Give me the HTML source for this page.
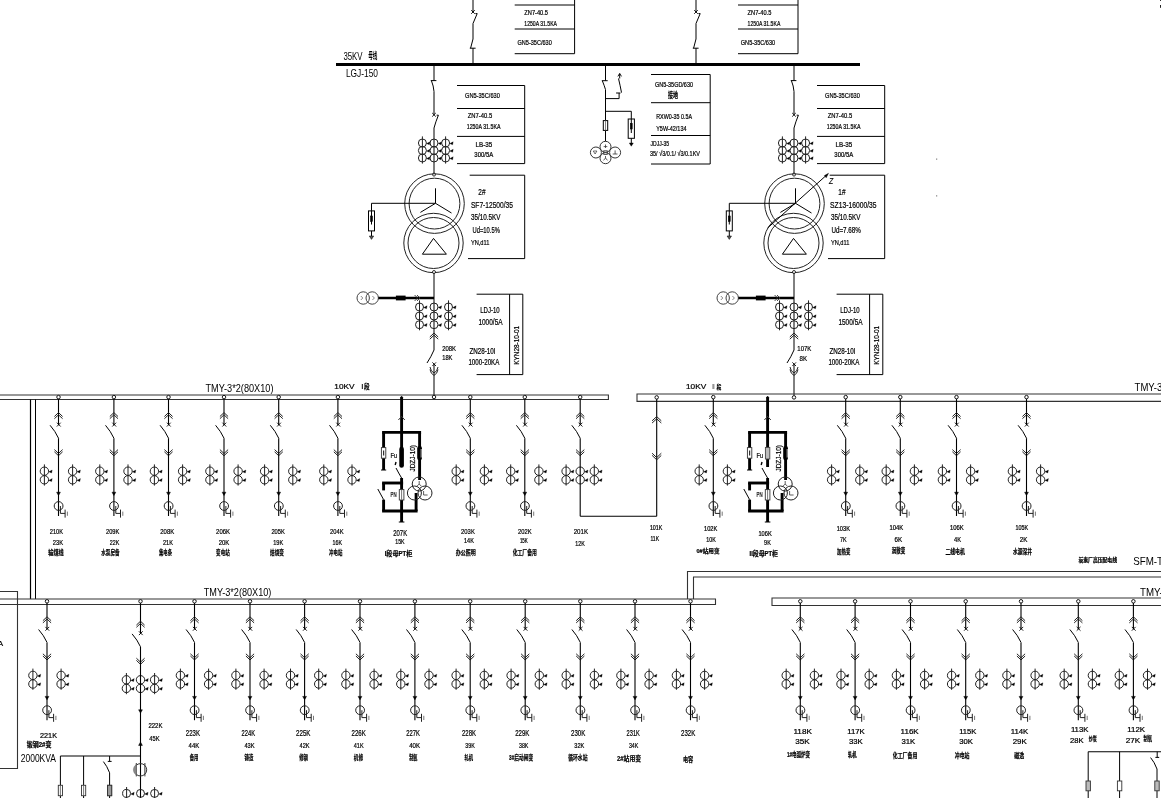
<!DOCTYPE html>
<html lang="zh">
<head>
<meta charset="utf-8">
<title>35KV/10KV 一次系统图</title>
<style>
html,body{margin:0;padding:0;background:#fff;}
body{width:1161px;height:798px;overflow:hidden;}
svg{display:block;will-change:transform;}
svg text{font-family:"Liberation Sans","Noto Sans CJK SC",sans-serif;fill:#000;stroke:#000;stroke-width:0.22px;}
svg text.it{font-style:italic;}
svg text.ns{stroke-width:0;}
</style>
</head>
<body>
<svg width="1161" height="798" viewBox="0 0 1161 798">
<rect x="0" y="0" width="1161" height="798" fill="#fff"/>
<line x1="336" y1="64.5" x2="860" y2="64.5" stroke="#000" stroke-width="3"/>
<text x="343.4" y="60" font-size="11.6" textLength="19.2" lengthAdjust="spacingAndGlyphs" class="ns">35KV</text>
<text x="368.2" y="59.4" font-size="9.6" textLength="9.2" lengthAdjust="spacingAndGlyphs" class="ns" font-weight="bold">母线</text>
<text x="345.9" y="76.9" font-size="11.4" textLength="32.1" lengthAdjust="spacingAndGlyphs" class="ns">LGJ-150</text>
<line x1="473" y1="0" x2="473" y2="12.2" stroke="#000" stroke-width="1"/>
<line x1="471.2" y1="10.2" x2="474.8" y2="13.8" stroke="#000" stroke-width="0.9"/>
<line x1="471.2" y1="13.8" x2="474.8" y2="10.2" stroke="#000" stroke-width="0.9"/>
<path d="M475.4 13.6 L477.2 13.6 L473 23.5 L473 39 L470.6 48.2" stroke="#000" stroke-width="1" fill="none"/>
<line x1="469.8" y1="48.2" x2="475.6" y2="48.2" stroke="#000" stroke-width="1"/>
<line x1="473" y1="48.2" x2="473" y2="64.5" stroke="#000" stroke-width="1"/>
<line x1="514.7" y1="5" x2="574.6" y2="5" stroke="#000" stroke-width="1"/>
<line x1="514.7" y1="29" x2="574.6" y2="29" stroke="#000" stroke-width="1"/>
<line x1="514.7" y1="53.7" x2="574.6" y2="53.7" stroke="#000" stroke-width="1"/>
<line x1="574.6" y1="0" x2="574.6" y2="53.7" stroke="#000" stroke-width="1"/>
<text x="524.3" y="15.1" font-size="7.3" textLength="23.7" lengthAdjust="spacingAndGlyphs">ZN7-40.5</text>
<text x="524.3" y="25.8" font-size="7.3" textLength="32.7" lengthAdjust="spacingAndGlyphs">1250A 31.5KA</text>
<text x="517.5" y="44.9" font-size="7.3" textLength="34.3" lengthAdjust="spacingAndGlyphs">GN5-35C/630</text>
<line x1="696" y1="0" x2="696" y2="12.2" stroke="#000" stroke-width="1"/>
<line x1="694.2" y1="10.2" x2="697.8" y2="13.8" stroke="#000" stroke-width="0.9"/>
<line x1="694.2" y1="13.8" x2="697.8" y2="10.2" stroke="#000" stroke-width="0.9"/>
<path d="M698.4 13.6 L700.2 13.6 L696 23.5 L696 39 L693.6 48.2" stroke="#000" stroke-width="1" fill="none"/>
<line x1="692.8" y1="48.2" x2="698.6" y2="48.2" stroke="#000" stroke-width="1"/>
<line x1="696" y1="48.2" x2="696" y2="64.5" stroke="#000" stroke-width="1"/>
<line x1="738" y1="5" x2="798" y2="5" stroke="#000" stroke-width="1"/>
<line x1="738" y1="29" x2="798" y2="29" stroke="#000" stroke-width="1"/>
<line x1="738" y1="53.7" x2="798" y2="53.7" stroke="#000" stroke-width="1"/>
<line x1="798" y1="0" x2="798" y2="53.7" stroke="#000" stroke-width="1"/>
<text x="747.6" y="15.1" font-size="7.3" textLength="23.7" lengthAdjust="spacingAndGlyphs">ZN7-40.5</text>
<text x="747.6" y="25.8" font-size="7.3" textLength="32.7" lengthAdjust="spacingAndGlyphs">1250A 31.5KA</text>
<text x="740.8" y="44.9" font-size="7.3" textLength="34.3" lengthAdjust="spacingAndGlyphs">GN5-35C/630</text>
<line x1="434" y1="64.5" x2="434" y2="80.6" stroke="#000" stroke-width="1"/>
<line x1="430.8" y1="80.6" x2="436.4" y2="80.6" stroke="#000" stroke-width="1"/>
<path d="M431.4 80.6 Q433.6 86 434 91.5 L434 114.6" stroke="#000" stroke-width="1" fill="none"/>
<line x1="432.2" y1="113" x2="435.8" y2="116.6" stroke="#000" stroke-width="0.9"/>
<line x1="432.2" y1="116.6" x2="435.8" y2="113" stroke="#000" stroke-width="0.9"/>
<path d="M436.6 115.2 L438.4 115.2 Q435.6 122 434 128" stroke="#000" stroke-width="1" fill="none"/>
<line x1="434" y1="128" x2="434" y2="173" stroke="#000" stroke-width="1"/>
<circle cx="422.4" cy="143" r="4" stroke="#222" stroke-width="1" fill="none"/>
<path d="M426.6 143.6 L430 141.8 L429.4 144.8 Z" stroke="#000" stroke-width="0.3" fill="#000"/>
<circle cx="422.4" cy="150.5" r="4" stroke="#222" stroke-width="1" fill="none"/>
<path d="M426.6 151.1 L430 149.3 L429.4 152.3 Z" stroke="#000" stroke-width="0.3" fill="#000"/>
<circle cx="422.4" cy="158" r="4" stroke="#222" stroke-width="1" fill="none"/>
<path d="M426.6 158.6 L430 156.8 L429.4 159.8 Z" stroke="#000" stroke-width="0.3" fill="#000"/>
<line x1="422.4" y1="136.4" x2="422.4" y2="163.6" stroke="#222" stroke-width="1"/>
<circle cx="434" cy="143" r="4" stroke="#222" stroke-width="1" fill="none"/>
<path d="M438.2 143.6 L441.6 141.8 L441 144.8 Z" stroke="#000" stroke-width="0.3" fill="#000"/>
<circle cx="434" cy="150.5" r="4" stroke="#222" stroke-width="1" fill="none"/>
<path d="M438.2 151.1 L441.6 149.3 L441 152.3 Z" stroke="#000" stroke-width="0.3" fill="#000"/>
<circle cx="434" cy="158" r="4" stroke="#222" stroke-width="1" fill="none"/>
<path d="M438.2 158.6 L441.6 156.8 L441 159.8 Z" stroke="#000" stroke-width="0.3" fill="#000"/>
<circle cx="445.6" cy="143" r="4" stroke="#222" stroke-width="1" fill="none"/>
<path d="M449.8 143.6 L453.2 141.8 L452.6 144.8 Z" stroke="#000" stroke-width="0.3" fill="#000"/>
<circle cx="445.6" cy="150.5" r="4" stroke="#222" stroke-width="1" fill="none"/>
<path d="M449.8 151.1 L453.2 149.3 L452.6 152.3 Z" stroke="#000" stroke-width="0.3" fill="#000"/>
<circle cx="445.6" cy="158" r="4" stroke="#222" stroke-width="1" fill="none"/>
<path d="M449.8 158.6 L453.2 156.8 L452.6 159.8 Z" stroke="#000" stroke-width="0.3" fill="#000"/>
<line x1="445.6" y1="136.4" x2="445.6" y2="163.6" stroke="#222" stroke-width="1"/>
<line x1="457" y1="85.5" x2="524.7" y2="85.5" stroke="#000" stroke-width="1"/>
<line x1="457" y1="108.5" x2="524.7" y2="108.5" stroke="#000" stroke-width="1"/>
<line x1="457" y1="136.4" x2="524.7" y2="136.4" stroke="#000" stroke-width="1"/>
<line x1="457" y1="163.6" x2="524.7" y2="163.6" stroke="#000" stroke-width="1"/>
<line x1="524.7" y1="85.5" x2="524.7" y2="163.6" stroke="#000" stroke-width="1"/>
<text x="465" y="98" font-size="7.3" textLength="34.8" lengthAdjust="spacingAndGlyphs">GN5-35C/630</text>
<text x="467.8" y="118.2" font-size="7.3" textLength="24.4" lengthAdjust="spacingAndGlyphs">ZN7-40.5</text>
<text x="466.7" y="128.7" font-size="7.3" textLength="33.8" lengthAdjust="spacingAndGlyphs">1250A 31.5KA</text>
<text x="475.5" y="147.2" font-size="7.3" textLength="16.7" lengthAdjust="spacingAndGlyphs">LB-35</text>
<text x="474.3" y="157.2" font-size="7.3" textLength="19" lengthAdjust="spacingAndGlyphs">300/5A</text>
<line x1="469.7" y1="175.2" x2="524.7" y2="175.2" stroke="#000" stroke-width="1"/>
<line x1="468" y1="258.6" x2="524.7" y2="258.6" stroke="#000" stroke-width="1"/>
<line x1="524.7" y1="175.2" x2="524.7" y2="258.6" stroke="#000" stroke-width="1"/>
<text x="478.3" y="195.2" font-size="9.5" textLength="7.2" lengthAdjust="spacingAndGlyphs">2#</text>
<text x="470.9" y="207.5" font-size="9.6" textLength="42.1" lengthAdjust="spacingAndGlyphs">SF7-12500/35</text>
<text x="470.9" y="219.8" font-size="8.6" textLength="29.6" lengthAdjust="spacingAndGlyphs">35/10.5KV</text>
<text x="472.5" y="232.6" font-size="8.4" textLength="27.3" lengthAdjust="spacingAndGlyphs">Ud=10.5%</text>
<text x="470.9" y="245" font-size="8" textLength="18.5" lengthAdjust="spacingAndGlyphs">YN,d11</text>
<circle cx="434" cy="174.6" r="1.5" stroke="#000" stroke-width="0.8" fill="#fff"/>
<circle cx="434.5" cy="203.6" r="29.8" stroke="#222" stroke-width="1" fill="none"/>
<circle cx="434.5" cy="203.6" r="25.4" stroke="#222" stroke-width="1" fill="none"/>
<circle cx="433.5" cy="243" r="29.7" stroke="#222" stroke-width="1" fill="none"/>
<circle cx="433.5" cy="243" r="25.5" stroke="#222" stroke-width="1" fill="none"/>
<circle cx="434" cy="272" r="1.5" stroke="#000" stroke-width="0.8" fill="#fff"/>
<line x1="435.5" y1="203.3" x2="435.5" y2="188.3" stroke="#000" stroke-width="1"/>
<line x1="435.5" y1="203.3" x2="420.4" y2="212.4" stroke="#000" stroke-width="1"/>
<line x1="435.5" y1="203.3" x2="451.5" y2="213" stroke="#000" stroke-width="1"/>
<path d="M433.5 238.4 L422.4 254.2 L446.4 254.2 Z" stroke="#000" stroke-width="1" fill="none"/>
<path d="M435.5 203.3 L371.5 203.3 L371.5 210.9" stroke="#000" stroke-width="1" fill="none"/>
<rect x="368.5" y="210.9" width="6" height="20" stroke="#000" stroke-width="1" fill="none"/>
<line x1="371.5" y1="210.9" x2="371.5" y2="224.5" stroke="#000" stroke-width="1"/>
<rect x="370.6" y="216" width="1.8" height="5.4" stroke="#000" stroke-width="0.6" fill="#000"/>
<line x1="371.5" y1="230.9" x2="371.5" y2="236" stroke="#000" stroke-width="1"/>
<path d="M369.3 236 L373.7 236 L371.5 239.4 Z" stroke="#000" stroke-width="0.5" fill="#555"/>
<line x1="434" y1="273.4" x2="434" y2="350" stroke="#000" stroke-width="1"/>
<circle cx="363.2" cy="298" r="6.2" stroke="#444" stroke-width="1" fill="none"/>
<circle cx="372.2" cy="298" r="6.2" stroke="#444" stroke-width="1" fill="none"/>
<path d="M360.8 296 L362.8 298 L360.8 300" stroke="#555" stroke-width="0.7" fill="none"/>
<path d="M372.4 296 L374.4 298 L372.4 300" stroke="#555" stroke-width="0.7" fill="none"/>
<line x1="378.4" y1="298" x2="434" y2="298" stroke="#000" stroke-width="2.5"/>
<line x1="395.9" y1="298" x2="405.6" y2="298" stroke="#000" stroke-width="4.8"/>
<path d="M414.6 295 L417.6 298 L414.6 301 M417 295 L420 298 L417 301" stroke="#333" stroke-width="0.9" fill="none"/>
<circle cx="419.5" cy="307" r="4" stroke="#222" stroke-width="1" fill="none"/>
<path d="M423.7 307.6 L427.1 305.8 L426.5 308.8 Z" stroke="#000" stroke-width="0.3" fill="#000"/>
<circle cx="419.5" cy="316" r="4" stroke="#222" stroke-width="1" fill="none"/>
<path d="M423.7 316.6 L427.1 314.8 L426.5 317.8 Z" stroke="#000" stroke-width="0.3" fill="#000"/>
<circle cx="419.5" cy="324.7" r="4" stroke="#222" stroke-width="1" fill="none"/>
<path d="M423.7 325.3 L427.1 323.5 L426.5 326.5 Z" stroke="#000" stroke-width="0.3" fill="#000"/>
<line x1="419.5" y1="300.4" x2="419.5" y2="330.3" stroke="#222" stroke-width="1"/>
<circle cx="434" cy="307" r="4" stroke="#222" stroke-width="1" fill="none"/>
<path d="M438.2 307.6 L441.6 305.8 L441 308.8 Z" stroke="#000" stroke-width="0.3" fill="#000"/>
<circle cx="434" cy="316" r="4" stroke="#222" stroke-width="1" fill="none"/>
<path d="M438.2 316.6 L441.6 314.8 L441 317.8 Z" stroke="#000" stroke-width="0.3" fill="#000"/>
<circle cx="434" cy="324.7" r="4" stroke="#222" stroke-width="1" fill="none"/>
<path d="M438.2 325.3 L441.6 323.5 L441 326.5 Z" stroke="#000" stroke-width="0.3" fill="#000"/>
<circle cx="448.5" cy="307" r="4" stroke="#222" stroke-width="1" fill="none"/>
<path d="M452.7 307.6 L456.1 305.8 L455.5 308.8 Z" stroke="#000" stroke-width="0.3" fill="#000"/>
<circle cx="448.5" cy="316" r="4" stroke="#222" stroke-width="1" fill="none"/>
<path d="M452.7 316.6 L456.1 314.8 L455.5 317.8 Z" stroke="#000" stroke-width="0.3" fill="#000"/>
<circle cx="448.5" cy="324.7" r="4" stroke="#222" stroke-width="1" fill="none"/>
<path d="M452.7 325.3 L456.1 323.5 L455.5 326.5 Z" stroke="#000" stroke-width="0.3" fill="#000"/>
<line x1="448.5" y1="300.4" x2="448.5" y2="330.3" stroke="#222" stroke-width="1"/>
<path d="M429.8 337 L434 333 L438.2 337" stroke="#222" stroke-width="1" fill="none"/>
<path d="M429.8 339.2 L434 335.2 L438.2 339.2" stroke="#222" stroke-width="1" fill="none"/>
<path d="M434 350 Q431 357 427 363" stroke="#000" stroke-width="1" fill="none"/>
<line x1="432.4" y1="362.4" x2="436" y2="366" stroke="#000" stroke-width="0.9"/>
<line x1="432.4" y1="366" x2="436" y2="362.4" stroke="#000" stroke-width="0.9"/>
<line x1="434" y1="364.2" x2="434" y2="395.6" stroke="#000" stroke-width="1"/>
<path d="M430 369.5 Q430.8 374 434 375.4 Q437.2 374 438 369.5" stroke="#222" stroke-width="1" fill="none"/>
<path d="M430 367 Q430.8 371.6 434 373 Q437.2 371.6 438 367" stroke="#222" stroke-width="1" fill="none"/>
<line x1="476.6" y1="294.2" x2="522.8" y2="294.2" stroke="#000" stroke-width="1"/>
<line x1="476.6" y1="374.6" x2="522.8" y2="374.6" stroke="#000" stroke-width="1"/>
<line x1="509.6" y1="294.2" x2="509.6" y2="374.6" stroke="#000" stroke-width="1"/>
<line x1="522.8" y1="294.2" x2="522.8" y2="374.6" stroke="#000" stroke-width="1"/>
<text x="480.2" y="313.2" font-size="8.2" textLength="19.4" lengthAdjust="spacingAndGlyphs">LDJ-10</text>
<text x="478.4" y="325.4" font-size="8.2" textLength="24.2" lengthAdjust="spacingAndGlyphs">1000/5A</text>
<text x="469.4" y="354" font-size="8.2" textLength="26.2" lengthAdjust="spacingAndGlyphs">ZN28-10I</text>
<text x="468.4" y="364.8" font-size="8.2" textLength="31" lengthAdjust="spacingAndGlyphs">1000-20KA</text>
<text x="519.4" y="364.8" font-size="7.6" textLength="39" lengthAdjust="spacingAndGlyphs" transform="rotate(-90 519.4 364.8)">KYN28-10-01</text>
<line x1="794" y1="64.5" x2="794" y2="80.6" stroke="#000" stroke-width="1"/>
<line x1="790.8" y1="80.6" x2="796.4" y2="80.6" stroke="#000" stroke-width="1"/>
<path d="M791.4 80.6 Q793.6 86 794 91.5 L794 114.6" stroke="#000" stroke-width="1" fill="none"/>
<line x1="792.2" y1="113" x2="795.8" y2="116.6" stroke="#000" stroke-width="0.9"/>
<line x1="792.2" y1="116.6" x2="795.8" y2="113" stroke="#000" stroke-width="0.9"/>
<path d="M796.6 115.2 L798.4 115.2 Q795.6 122 794 128" stroke="#000" stroke-width="1" fill="none"/>
<line x1="794" y1="128" x2="794" y2="173" stroke="#000" stroke-width="1"/>
<circle cx="782.4" cy="143" r="4" stroke="#222" stroke-width="1" fill="none"/>
<path d="M786.6 143.6 L790 141.8 L789.4 144.8 Z" stroke="#000" stroke-width="0.3" fill="#000"/>
<circle cx="782.4" cy="150.5" r="4" stroke="#222" stroke-width="1" fill="none"/>
<path d="M786.6 151.1 L790 149.3 L789.4 152.3 Z" stroke="#000" stroke-width="0.3" fill="#000"/>
<circle cx="782.4" cy="158" r="4" stroke="#222" stroke-width="1" fill="none"/>
<path d="M786.6 158.6 L790 156.8 L789.4 159.8 Z" stroke="#000" stroke-width="0.3" fill="#000"/>
<line x1="782.4" y1="136.4" x2="782.4" y2="163.6" stroke="#222" stroke-width="1"/>
<circle cx="794" cy="143" r="4" stroke="#222" stroke-width="1" fill="none"/>
<path d="M798.2 143.6 L801.6 141.8 L801 144.8 Z" stroke="#000" stroke-width="0.3" fill="#000"/>
<circle cx="794" cy="150.5" r="4" stroke="#222" stroke-width="1" fill="none"/>
<path d="M798.2 151.1 L801.6 149.3 L801 152.3 Z" stroke="#000" stroke-width="0.3" fill="#000"/>
<circle cx="794" cy="158" r="4" stroke="#222" stroke-width="1" fill="none"/>
<path d="M798.2 158.6 L801.6 156.8 L801 159.8 Z" stroke="#000" stroke-width="0.3" fill="#000"/>
<circle cx="805.6" cy="143" r="4" stroke="#222" stroke-width="1" fill="none"/>
<path d="M809.8 143.6 L813.2 141.8 L812.6 144.8 Z" stroke="#000" stroke-width="0.3" fill="#000"/>
<circle cx="805.6" cy="150.5" r="4" stroke="#222" stroke-width="1" fill="none"/>
<path d="M809.8 151.1 L813.2 149.3 L812.6 152.3 Z" stroke="#000" stroke-width="0.3" fill="#000"/>
<circle cx="805.6" cy="158" r="4" stroke="#222" stroke-width="1" fill="none"/>
<path d="M809.8 158.6 L813.2 156.8 L812.6 159.8 Z" stroke="#000" stroke-width="0.3" fill="#000"/>
<line x1="805.6" y1="136.4" x2="805.6" y2="163.6" stroke="#222" stroke-width="1"/>
<line x1="817" y1="85.5" x2="884.7" y2="85.5" stroke="#000" stroke-width="1"/>
<line x1="817" y1="108.5" x2="884.7" y2="108.5" stroke="#000" stroke-width="1"/>
<line x1="817" y1="136.4" x2="884.7" y2="136.4" stroke="#000" stroke-width="1"/>
<line x1="817" y1="163.6" x2="884.7" y2="163.6" stroke="#000" stroke-width="1"/>
<line x1="884.7" y1="85.5" x2="884.7" y2="163.6" stroke="#000" stroke-width="1"/>
<text x="825" y="98" font-size="7.3" textLength="34.8" lengthAdjust="spacingAndGlyphs">GN5-35C/630</text>
<text x="827.8" y="118.2" font-size="7.3" textLength="24.4" lengthAdjust="spacingAndGlyphs">ZN7-40.5</text>
<text x="826.7" y="128.7" font-size="7.3" textLength="33.8" lengthAdjust="spacingAndGlyphs">1250A 31.5KA</text>
<text x="835.5" y="147.2" font-size="7.3" textLength="16.7" lengthAdjust="spacingAndGlyphs">LB-35</text>
<text x="834.3" y="157.2" font-size="7.3" textLength="19" lengthAdjust="spacingAndGlyphs">300/5A</text>
<line x1="829.7" y1="175.2" x2="884.7" y2="175.2" stroke="#000" stroke-width="1"/>
<line x1="828" y1="258.6" x2="884.7" y2="258.6" stroke="#000" stroke-width="1"/>
<line x1="884.7" y1="175.2" x2="884.7" y2="258.6" stroke="#000" stroke-width="1"/>
<text x="838.3" y="195.2" font-size="9.5" textLength="7.2" lengthAdjust="spacingAndGlyphs">1#</text>
<text x="830.1" y="207.5" font-size="9.6" textLength="46.4" lengthAdjust="spacingAndGlyphs">SZ13-16000/35</text>
<text x="830.9" y="219.8" font-size="8.6" textLength="29.6" lengthAdjust="spacingAndGlyphs">35/10.5KV</text>
<text x="831.4" y="232.6" font-size="8.4" textLength="29.4" lengthAdjust="spacingAndGlyphs">Ud=7.68%</text>
<text x="830.9" y="245" font-size="8" textLength="18.5" lengthAdjust="spacingAndGlyphs">YN,d11</text>
<circle cx="794" cy="174.6" r="1.5" stroke="#000" stroke-width="0.8" fill="#fff"/>
<circle cx="794.5" cy="203.6" r="29.8" stroke="#222" stroke-width="1" fill="none"/>
<circle cx="794.5" cy="203.6" r="25.4" stroke="#222" stroke-width="1" fill="none"/>
<circle cx="793.5" cy="243" r="29.7" stroke="#222" stroke-width="1" fill="none"/>
<circle cx="793.5" cy="243" r="25.5" stroke="#222" stroke-width="1" fill="none"/>
<circle cx="794" cy="272" r="1.5" stroke="#000" stroke-width="0.8" fill="#fff"/>
<line x1="795.5" y1="203.3" x2="795.5" y2="188.3" stroke="#000" stroke-width="1"/>
<line x1="795.5" y1="203.3" x2="780.4" y2="212.4" stroke="#000" stroke-width="1"/>
<line x1="795.5" y1="203.3" x2="811.5" y2="213" stroke="#000" stroke-width="1"/>
<path d="M793.5 238.4 L782.4 254.2 L806.4 254.2 Z" stroke="#000" stroke-width="1" fill="none"/>
<path d="M795.5 203.3 L729.3 203.3 L729.3 210.9" stroke="#000" stroke-width="1" fill="none"/>
<rect x="726.3" y="210.9" width="6" height="20" stroke="#000" stroke-width="1" fill="none"/>
<line x1="729.3" y1="210.9" x2="729.3" y2="224.5" stroke="#000" stroke-width="1"/>
<rect x="728.4" y="216" width="1.8" height="5.4" stroke="#000" stroke-width="0.6" fill="#000"/>
<line x1="729.3" y1="230.9" x2="729.3" y2="236" stroke="#000" stroke-width="1"/>
<path d="M727.1 236 L731.5 236 L729.3 239.4 Z" stroke="#000" stroke-width="0.5" fill="#555"/>
<line x1="767.6" y1="228" x2="826" y2="175.6" stroke="#000" stroke-width="1"/>
<path d="M828.5 173.3 L824.4 175.6 L826.2 177.8 Z" stroke="#000" stroke-width="0.4" fill="#000"/>
<text x="829" y="184" font-size="8.4" textLength="4.2" lengthAdjust="spacingAndGlyphs" class="it">Z</text>
<line x1="794" y1="273.4" x2="794" y2="350" stroke="#000" stroke-width="1"/>
<circle cx="723.2" cy="298" r="6.2" stroke="#444" stroke-width="1" fill="none"/>
<circle cx="732.2" cy="298" r="6.2" stroke="#444" stroke-width="1" fill="none"/>
<path d="M720.8 296 L722.8 298 L720.8 300" stroke="#555" stroke-width="0.7" fill="none"/>
<path d="M732.4 296 L734.4 298 L732.4 300" stroke="#555" stroke-width="0.7" fill="none"/>
<line x1="738.4" y1="298" x2="794" y2="298" stroke="#000" stroke-width="2.5"/>
<line x1="755.9" y1="298" x2="765.6" y2="298" stroke="#000" stroke-width="4.8"/>
<path d="M774.6 295 L777.6 298 L774.6 301 M777 295 L780 298 L777 301" stroke="#333" stroke-width="0.9" fill="none"/>
<circle cx="779.5" cy="307" r="4" stroke="#222" stroke-width="1" fill="none"/>
<path d="M783.7 307.6 L787.1 305.8 L786.5 308.8 Z" stroke="#000" stroke-width="0.3" fill="#000"/>
<circle cx="779.5" cy="316" r="4" stroke="#222" stroke-width="1" fill="none"/>
<path d="M783.7 316.6 L787.1 314.8 L786.5 317.8 Z" stroke="#000" stroke-width="0.3" fill="#000"/>
<circle cx="779.5" cy="324.7" r="4" stroke="#222" stroke-width="1" fill="none"/>
<path d="M783.7 325.3 L787.1 323.5 L786.5 326.5 Z" stroke="#000" stroke-width="0.3" fill="#000"/>
<line x1="779.5" y1="300.4" x2="779.5" y2="330.3" stroke="#222" stroke-width="1"/>
<circle cx="794" cy="307" r="4" stroke="#222" stroke-width="1" fill="none"/>
<path d="M798.2 307.6 L801.6 305.8 L801 308.8 Z" stroke="#000" stroke-width="0.3" fill="#000"/>
<circle cx="794" cy="316" r="4" stroke="#222" stroke-width="1" fill="none"/>
<path d="M798.2 316.6 L801.6 314.8 L801 317.8 Z" stroke="#000" stroke-width="0.3" fill="#000"/>
<circle cx="794" cy="324.7" r="4" stroke="#222" stroke-width="1" fill="none"/>
<path d="M798.2 325.3 L801.6 323.5 L801 326.5 Z" stroke="#000" stroke-width="0.3" fill="#000"/>
<circle cx="808.5" cy="307" r="4" stroke="#222" stroke-width="1" fill="none"/>
<path d="M812.7 307.6 L816.1 305.8 L815.5 308.8 Z" stroke="#000" stroke-width="0.3" fill="#000"/>
<circle cx="808.5" cy="316" r="4" stroke="#222" stroke-width="1" fill="none"/>
<path d="M812.7 316.6 L816.1 314.8 L815.5 317.8 Z" stroke="#000" stroke-width="0.3" fill="#000"/>
<circle cx="808.5" cy="324.7" r="4" stroke="#222" stroke-width="1" fill="none"/>
<path d="M812.7 325.3 L816.1 323.5 L815.5 326.5 Z" stroke="#000" stroke-width="0.3" fill="#000"/>
<line x1="808.5" y1="300.4" x2="808.5" y2="330.3" stroke="#222" stroke-width="1"/>
<path d="M789.8 337 L794 333 L798.2 337" stroke="#222" stroke-width="1" fill="none"/>
<path d="M789.8 339.2 L794 335.2 L798.2 339.2" stroke="#222" stroke-width="1" fill="none"/>
<path d="M794 350 Q791 357 787 363" stroke="#000" stroke-width="1" fill="none"/>
<line x1="792.4" y1="362.4" x2="796" y2="366" stroke="#000" stroke-width="0.9"/>
<line x1="792.4" y1="366" x2="796" y2="362.4" stroke="#000" stroke-width="0.9"/>
<line x1="794" y1="364.2" x2="794" y2="395.6" stroke="#000" stroke-width="1"/>
<path d="M790 369.5 Q790.8 374 794 375.4 Q797.2 374 798 369.5" stroke="#222" stroke-width="1" fill="none"/>
<path d="M790 367 Q790.8 371.6 794 373 Q797.2 371.6 798 367" stroke="#222" stroke-width="1" fill="none"/>
<line x1="836.6" y1="294.2" x2="882.8" y2="294.2" stroke="#000" stroke-width="1"/>
<line x1="836.6" y1="374.6" x2="882.8" y2="374.6" stroke="#000" stroke-width="1"/>
<line x1="869.6" y1="294.2" x2="869.6" y2="374.6" stroke="#000" stroke-width="1"/>
<line x1="882.8" y1="294.2" x2="882.8" y2="374.6" stroke="#000" stroke-width="1"/>
<text x="840.2" y="313.2" font-size="8.2" textLength="19.4" lengthAdjust="spacingAndGlyphs">LDJ-10</text>
<text x="838.4" y="325.4" font-size="8.2" textLength="24.2" lengthAdjust="spacingAndGlyphs">1500/5A</text>
<text x="829.4" y="354" font-size="8.2" textLength="26.2" lengthAdjust="spacingAndGlyphs">ZN28-10I</text>
<text x="828.4" y="364.8" font-size="8.2" textLength="31" lengthAdjust="spacingAndGlyphs">1000-20KA</text>
<text x="879.4" y="364.8" font-size="7.6" textLength="39" lengthAdjust="spacingAndGlyphs" transform="rotate(-90 879.4 364.8)">KYN28-10-01</text>
<text x="442.2" y="350.6" font-size="8" textLength="13.8" lengthAdjust="spacingAndGlyphs">208K</text>
<text x="442.2" y="360.2" font-size="8" textLength="10.2" lengthAdjust="spacingAndGlyphs">18K</text>
<text x="797.3" y="350.6" font-size="8" textLength="14" lengthAdjust="spacingAndGlyphs">107K</text>
<text x="799.5" y="360.6" font-size="8" textLength="7.5" lengthAdjust="spacingAndGlyphs">8K</text>
<line x1="605.5" y1="64.5" x2="605.5" y2="80.7" stroke="#000" stroke-width="1"/>
<line x1="601.9" y1="80.7" x2="607.7" y2="80.7" stroke="#000" stroke-width="1"/>
<path d="M602.3 80.7 Q604.3 85.5 605.5 89.6" stroke="#000" stroke-width="1" fill="none"/>
<line x1="605.5" y1="89.6" x2="605.5" y2="141.3" stroke="#000" stroke-width="1"/>
<line x1="605.5" y1="98.6" x2="619.1" y2="98.6" stroke="#000" stroke-width="1"/>
<line x1="619.1" y1="98.6" x2="619.1" y2="93" stroke="#000" stroke-width="1"/>
<line x1="616.1" y1="93" x2="620.5" y2="93" stroke="#000" stroke-width="1"/>
<path d="M621.5 92.6 Q620.3 86 618.5 78.5" stroke="#000" stroke-width="1" fill="none"/>
<line x1="619.7" y1="78.5" x2="619.7" y2="73.8" stroke="#000" stroke-width="1"/>
<path d="M617.9 76.4 L619.7 73.4 L621.5 76.4" stroke="#000" stroke-width="0.9" fill="none"/>
<line x1="605.5" y1="111.3" x2="631.3" y2="111.3" stroke="#000" stroke-width="1"/>
<line x1="631.3" y1="111.3" x2="631.3" y2="119" stroke="#000" stroke-width="1"/>
<rect x="603.3" y="120.6" width="4.4" height="9.8" stroke="#000" stroke-width="1" fill="#fff"/>
<line x1="605.5" y1="120.6" x2="605.5" y2="130.4" stroke="#666" stroke-width="0.8"/>
<rect x="628.2" y="119" width="6.2" height="19.3" stroke="#000" stroke-width="1" fill="none"/>
<line x1="631.3" y1="119" x2="631.3" y2="133" stroke="#000" stroke-width="1"/>
<rect x="630.4" y="123.4" width="1.8" height="5.6" stroke="#000" stroke-width="0.6" fill="#000"/>
<line x1="631.3" y1="138.3" x2="631.3" y2="143" stroke="#000" stroke-width="1"/>
<path d="M629.3 143 L633.3 143 L631.3 146.2 Z" stroke="#000" stroke-width="0.4" fill="#000"/>
<circle cx="605.5" cy="146.8" r="5.5" stroke="#333" stroke-width="1" fill="none"/>
<circle cx="605.5" cy="158.2" r="5.5" stroke="#333" stroke-width="1" fill="none"/>
<circle cx="595.9" cy="152.5" r="5.5" stroke="#333" stroke-width="1" fill="none"/>
<circle cx="615.1" cy="152.5" r="5.5" stroke="#333" stroke-width="1" fill="none"/>
<rect x="603.7" y="150.8" width="3.6" height="3.6" stroke="#333" stroke-width="0.8" fill="none"/>
<path d="M605.5 144.5 L605.5 148 M603.7 146.6 L607.3 146.6" stroke="#333" stroke-width="0.8" fill="none"/>
<path d="M605.5 156 L605.5 158 L603.5 160.4 M605.5 158 L607.5 160.4" stroke="#333" stroke-width="0.8" fill="none"/>
<path d="M593.3 151 L596.9 151 L595.1 154 Z" stroke="#333" stroke-width="0.7" fill="none"/>
<path d="M615.1 150.4 L615.1 154 M612.7 154 L617.5 154" stroke="#333" stroke-width="0.8" fill="none"/>
<line x1="651" y1="74.5" x2="710.2" y2="74.5" stroke="#000" stroke-width="1"/>
<line x1="651" y1="102.7" x2="710.2" y2="102.7" stroke="#000" stroke-width="1"/>
<line x1="651" y1="135.5" x2="710.2" y2="135.5" stroke="#000" stroke-width="1"/>
<line x1="651" y1="164" x2="710.2" y2="164" stroke="#000" stroke-width="1"/>
<line x1="710.2" y1="74.5" x2="710.2" y2="164" stroke="#000" stroke-width="1"/>
<text x="655" y="86.8" font-size="7.3" textLength="38" lengthAdjust="spacingAndGlyphs">GN5-35GD/630</text>
<text x="668" y="97.8" font-size="7.6" textLength="10" lengthAdjust="spacingAndGlyphs" font-weight="bold">接地</text>
<text x="656.2" y="118.6" font-size="7.3" textLength="35.8" lengthAdjust="spacingAndGlyphs">RXW0-35 0.5A</text>
<text x="656.2" y="131.2" font-size="7.3" textLength="30.3" lengthAdjust="spacingAndGlyphs">Y5W-42/134</text>
<text x="650.6" y="146" font-size="7.3" textLength="18.4" lengthAdjust="spacingAndGlyphs">JDJJ-35</text>
<text x="650" y="155.8" font-size="7.6" textLength="50" lengthAdjust="spacingAndGlyphs">35/ √3/0.1/ √3/0.1KV</text>
<rect x="936.2" y="158.6" width="1" height="1" stroke="#000" stroke-width="0" fill="#444"/>
<rect x="936.2" y="195.4" width="1" height="1" stroke="#000" stroke-width="0" fill="#444"/>
<rect x="1160" y="0" width="1" height="1" stroke="#000" stroke-width="0" fill="#333"/>
<rect x="1160" y="5" width="1" height="2.8" stroke="#000" stroke-width="0" fill="#222"/>
<path d="M0 395 L608.4 395 L608.4 399.5 L0 399.5" stroke="#333" stroke-width="1.1" fill="none"/>
<path d="M1161 394 L637 394 L637 401.4 L1161 401.4" stroke="#333" stroke-width="1.1" fill="none"/>
<text x="205.5" y="391.8" font-size="10.2" textLength="68" lengthAdjust="spacingAndGlyphs" class="ns">TMY-3*2(80X10)</text>
<text x="334.3" y="388.8" font-size="7.8" textLength="20.2" lengthAdjust="spacingAndGlyphs">10KV</text>
<text x="361.2" y="388.8" font-size="7.8">I</text>
<text x="364" y="388.6" font-size="6.6" textLength="5.6" lengthAdjust="spacingAndGlyphs" font-weight="bold">段</text>
<text x="686" y="388.8" font-size="7.8" textLength="20.2" lengthAdjust="spacingAndGlyphs">10KV</text>
<text x="712.6" y="388.8" font-size="7.8" textLength="1.8" lengthAdjust="spacingAndGlyphs">II</text>
<text x="716.6" y="388.6" font-size="6.2" textLength="4.8" lengthAdjust="spacingAndGlyphs" font-weight="bold">段</text>
<text x="1134.6" y="391.4" font-size="10.2" textLength="31.4" lengthAdjust="spacingAndGlyphs" class="ns">TMY-3*</text>
<circle cx="58.5" cy="397.1" r="1.75" stroke="#000" stroke-width="0.9" fill="#fff"/>
<line x1="58.5" y1="398.9" x2="58.5" y2="425.1" stroke="#000" stroke-width="1.1"/>
<path d="M54.4 416.5 L58.5 412.6 L62.6 416.5" stroke="#222" stroke-width="1" fill="none"/>
<path d="M54.4 418.7 L58.5 414.8 L62.6 418.7" stroke="#222" stroke-width="1" fill="none"/>
<line x1="56.9" y1="422.7" x2="60.7" y2="426.5" stroke="#000" stroke-width="0.9"/>
<line x1="56.9" y1="426.5" x2="60.7" y2="422.7" stroke="#000" stroke-width="0.9"/>
<path d="M50.1 425.3 Q55.3 431.2 58.5 438.2" stroke="#000" stroke-width="1" fill="none"/>
<path d="M54.4 451.8 L58.5 455.7 L62.6 451.8" stroke="#222" stroke-width="1" fill="none"/>
<path d="M54.4 449.6 L58.5 453.5 L62.6 449.6" stroke="#222" stroke-width="1" fill="none"/>
<circle cx="44.4" cy="471.2" r="4.2" stroke="#222" stroke-width="1" fill="none"/>
<path d="M48.8 471.8 L52.2 470 L51.6 473 Z" stroke="#000" stroke-width="0.3" fill="#000"/>
<circle cx="44.4" cy="479.8" r="4.2" stroke="#222" stroke-width="1" fill="none"/>
<path d="M48.8 480.4 L52.2 478.6 L51.6 481.6 Z" stroke="#000" stroke-width="0.3" fill="#000"/>
<line x1="44.4" y1="464.4" x2="44.4" y2="485.6" stroke="#222" stroke-width="1"/>
<circle cx="72.6" cy="471.2" r="4.2" stroke="#222" stroke-width="1" fill="none"/>
<path d="M77 471.8 L80.4 470 L79.8 473 Z" stroke="#000" stroke-width="0.3" fill="#000"/>
<circle cx="72.6" cy="479.8" r="4.2" stroke="#222" stroke-width="1" fill="none"/>
<path d="M77 480.4 L80.4 478.6 L79.8 481.6 Z" stroke="#000" stroke-width="0.3" fill="#000"/>
<line x1="72.6" y1="464.4" x2="72.6" y2="485.6" stroke="#222" stroke-width="1"/>
<line x1="58.5" y1="438.2" x2="58.5" y2="516" stroke="#000" stroke-width="1.1"/>
<path d="M56.6 492.2 L60.4 492.2 L58.5 495.5 Z" stroke="#000" stroke-width="0.5" fill="#000"/>
<circle cx="58.6" cy="506" r="4.4" stroke="#222" stroke-width="1" fill="none"/>
<line x1="60.4" y1="506" x2="60.4" y2="513.4" stroke="#222" stroke-width="1"/>
<line x1="60.4" y1="513.4" x2="65.1" y2="513.4" stroke="#222" stroke-width="1"/>
<line x1="65.1" y1="509.6" x2="65.1" y2="517.6" stroke="#222" stroke-width="1"/>
<line x1="67.4" y1="511.6" x2="67.4" y2="515.8" stroke="#555" stroke-width="0.8"/>
<circle cx="113.9" cy="397.1" r="1.75" stroke="#000" stroke-width="0.9" fill="#fff"/>
<line x1="113.9" y1="398.9" x2="113.9" y2="425.1" stroke="#000" stroke-width="1.1"/>
<path d="M109.8 416.5 L113.9 412.6 L118 416.5" stroke="#222" stroke-width="1" fill="none"/>
<path d="M109.8 418.7 L113.9 414.8 L118 418.7" stroke="#222" stroke-width="1" fill="none"/>
<line x1="112.3" y1="422.7" x2="116.1" y2="426.5" stroke="#000" stroke-width="0.9"/>
<line x1="112.3" y1="426.5" x2="116.1" y2="422.7" stroke="#000" stroke-width="0.9"/>
<path d="M105.5 425.3 Q110.7 431.2 113.9 438.2" stroke="#000" stroke-width="1" fill="none"/>
<path d="M109.8 451.8 L113.9 455.7 L118 451.8" stroke="#222" stroke-width="1" fill="none"/>
<path d="M109.8 449.6 L113.9 453.5 L118 449.6" stroke="#222" stroke-width="1" fill="none"/>
<circle cx="99.8" cy="471.2" r="4.2" stroke="#222" stroke-width="1" fill="none"/>
<path d="M104.2 471.8 L107.6 470 L107 473 Z" stroke="#000" stroke-width="0.3" fill="#000"/>
<circle cx="99.8" cy="479.8" r="4.2" stroke="#222" stroke-width="1" fill="none"/>
<path d="M104.2 480.4 L107.6 478.6 L107 481.6 Z" stroke="#000" stroke-width="0.3" fill="#000"/>
<line x1="99.8" y1="464.4" x2="99.8" y2="485.6" stroke="#222" stroke-width="1"/>
<circle cx="128" cy="471.2" r="4.2" stroke="#222" stroke-width="1" fill="none"/>
<path d="M132.4 471.8 L135.8 470 L135.2 473 Z" stroke="#000" stroke-width="0.3" fill="#000"/>
<circle cx="128" cy="479.8" r="4.2" stroke="#222" stroke-width="1" fill="none"/>
<path d="M132.4 480.4 L135.8 478.6 L135.2 481.6 Z" stroke="#000" stroke-width="0.3" fill="#000"/>
<line x1="128" y1="464.4" x2="128" y2="485.6" stroke="#222" stroke-width="1"/>
<line x1="113.9" y1="438.2" x2="113.9" y2="516" stroke="#000" stroke-width="1.1"/>
<path d="M112 492.2 L115.8 492.2 L113.9 495.5 Z" stroke="#000" stroke-width="0.5" fill="#000"/>
<circle cx="114" cy="506" r="4.4" stroke="#222" stroke-width="1" fill="none"/>
<line x1="115.8" y1="506" x2="115.8" y2="513.4" stroke="#222" stroke-width="1"/>
<line x1="115.8" y1="513.4" x2="120.5" y2="513.4" stroke="#222" stroke-width="1"/>
<line x1="120.5" y1="509.6" x2="120.5" y2="517.6" stroke="#222" stroke-width="1"/>
<line x1="122.8" y1="511.6" x2="122.8" y2="515.8" stroke="#555" stroke-width="0.8"/>
<circle cx="168.5" cy="397.1" r="1.75" stroke="#000" stroke-width="0.9" fill="#fff"/>
<line x1="168.5" y1="398.9" x2="168.5" y2="425.1" stroke="#000" stroke-width="1.1"/>
<path d="M164.4 416.5 L168.5 412.6 L172.6 416.5" stroke="#222" stroke-width="1" fill="none"/>
<path d="M164.4 418.7 L168.5 414.8 L172.6 418.7" stroke="#222" stroke-width="1" fill="none"/>
<line x1="166.9" y1="422.7" x2="170.7" y2="426.5" stroke="#000" stroke-width="0.9"/>
<line x1="166.9" y1="426.5" x2="170.7" y2="422.7" stroke="#000" stroke-width="0.9"/>
<path d="M160.1 425.3 Q165.3 431.2 168.5 438.2" stroke="#000" stroke-width="1" fill="none"/>
<path d="M164.4 451.8 L168.5 455.7 L172.6 451.8" stroke="#222" stroke-width="1" fill="none"/>
<path d="M164.4 449.6 L168.5 453.5 L172.6 449.6" stroke="#222" stroke-width="1" fill="none"/>
<circle cx="154.4" cy="471.2" r="4.2" stroke="#222" stroke-width="1" fill="none"/>
<path d="M158.8 471.8 L162.2 470 L161.6 473 Z" stroke="#000" stroke-width="0.3" fill="#000"/>
<circle cx="154.4" cy="479.8" r="4.2" stroke="#222" stroke-width="1" fill="none"/>
<path d="M158.8 480.4 L162.2 478.6 L161.6 481.6 Z" stroke="#000" stroke-width="0.3" fill="#000"/>
<line x1="154.4" y1="464.4" x2="154.4" y2="485.6" stroke="#222" stroke-width="1"/>
<circle cx="182.6" cy="471.2" r="4.2" stroke="#222" stroke-width="1" fill="none"/>
<path d="M187 471.8 L190.4 470 L189.8 473 Z" stroke="#000" stroke-width="0.3" fill="#000"/>
<circle cx="182.6" cy="479.8" r="4.2" stroke="#222" stroke-width="1" fill="none"/>
<path d="M187 480.4 L190.4 478.6 L189.8 481.6 Z" stroke="#000" stroke-width="0.3" fill="#000"/>
<line x1="182.6" y1="464.4" x2="182.6" y2="485.6" stroke="#222" stroke-width="1"/>
<line x1="168.5" y1="438.2" x2="168.5" y2="516" stroke="#000" stroke-width="1.1"/>
<path d="M166.6 492.2 L170.4 492.2 L168.5 495.5 Z" stroke="#000" stroke-width="0.5" fill="#000"/>
<circle cx="168.6" cy="506" r="4.4" stroke="#222" stroke-width="1" fill="none"/>
<line x1="170.4" y1="506" x2="170.4" y2="513.4" stroke="#222" stroke-width="1"/>
<line x1="170.4" y1="513.4" x2="175.1" y2="513.4" stroke="#222" stroke-width="1"/>
<line x1="175.1" y1="509.6" x2="175.1" y2="517.6" stroke="#222" stroke-width="1"/>
<line x1="177.4" y1="511.6" x2="177.4" y2="515.8" stroke="#555" stroke-width="0.8"/>
<circle cx="224" cy="397.1" r="1.75" stroke="#000" stroke-width="0.9" fill="#fff"/>
<line x1="224" y1="398.9" x2="224" y2="425.1" stroke="#000" stroke-width="1.1"/>
<path d="M219.9 416.5 L224 412.6 L228.1 416.5" stroke="#222" stroke-width="1" fill="none"/>
<path d="M219.9 418.7 L224 414.8 L228.1 418.7" stroke="#222" stroke-width="1" fill="none"/>
<line x1="222.4" y1="422.7" x2="226.2" y2="426.5" stroke="#000" stroke-width="0.9"/>
<line x1="222.4" y1="426.5" x2="226.2" y2="422.7" stroke="#000" stroke-width="0.9"/>
<path d="M215.6 425.3 Q220.8 431.2 224 438.2" stroke="#000" stroke-width="1" fill="none"/>
<path d="M219.9 451.8 L224 455.7 L228.1 451.8" stroke="#222" stroke-width="1" fill="none"/>
<path d="M219.9 449.6 L224 453.5 L228.1 449.6" stroke="#222" stroke-width="1" fill="none"/>
<circle cx="209.9" cy="471.2" r="4.2" stroke="#222" stroke-width="1" fill="none"/>
<path d="M214.3 471.8 L217.7 470 L217.1 473 Z" stroke="#000" stroke-width="0.3" fill="#000"/>
<circle cx="209.9" cy="479.8" r="4.2" stroke="#222" stroke-width="1" fill="none"/>
<path d="M214.3 480.4 L217.7 478.6 L217.1 481.6 Z" stroke="#000" stroke-width="0.3" fill="#000"/>
<line x1="209.9" y1="464.4" x2="209.9" y2="485.6" stroke="#222" stroke-width="1"/>
<circle cx="238.1" cy="471.2" r="4.2" stroke="#222" stroke-width="1" fill="none"/>
<path d="M242.5 471.8 L245.9 470 L245.3 473 Z" stroke="#000" stroke-width="0.3" fill="#000"/>
<circle cx="238.1" cy="479.8" r="4.2" stroke="#222" stroke-width="1" fill="none"/>
<path d="M242.5 480.4 L245.9 478.6 L245.3 481.6 Z" stroke="#000" stroke-width="0.3" fill="#000"/>
<line x1="238.1" y1="464.4" x2="238.1" y2="485.6" stroke="#222" stroke-width="1"/>
<line x1="224" y1="438.2" x2="224" y2="516" stroke="#000" stroke-width="1.1"/>
<path d="M222.1 492.2 L225.9 492.2 L224 495.5 Z" stroke="#000" stroke-width="0.5" fill="#000"/>
<circle cx="224.1" cy="506" r="4.4" stroke="#222" stroke-width="1" fill="none"/>
<line x1="225.9" y1="506" x2="225.9" y2="513.4" stroke="#222" stroke-width="1"/>
<line x1="225.9" y1="513.4" x2="230.6" y2="513.4" stroke="#222" stroke-width="1"/>
<line x1="230.6" y1="509.6" x2="230.6" y2="517.6" stroke="#222" stroke-width="1"/>
<line x1="232.9" y1="511.6" x2="232.9" y2="515.8" stroke="#555" stroke-width="0.8"/>
<circle cx="278.7" cy="397.1" r="1.75" stroke="#000" stroke-width="0.9" fill="#fff"/>
<line x1="278.7" y1="398.9" x2="278.7" y2="425.1" stroke="#000" stroke-width="1.1"/>
<path d="M274.6 416.5 L278.7 412.6 L282.8 416.5" stroke="#222" stroke-width="1" fill="none"/>
<path d="M274.6 418.7 L278.7 414.8 L282.8 418.7" stroke="#222" stroke-width="1" fill="none"/>
<line x1="277.1" y1="422.7" x2="280.9" y2="426.5" stroke="#000" stroke-width="0.9"/>
<line x1="277.1" y1="426.5" x2="280.9" y2="422.7" stroke="#000" stroke-width="0.9"/>
<path d="M270.3 425.3 Q275.5 431.2 278.7 438.2" stroke="#000" stroke-width="1" fill="none"/>
<path d="M274.6 451.8 L278.7 455.7 L282.8 451.8" stroke="#222" stroke-width="1" fill="none"/>
<path d="M274.6 449.6 L278.7 453.5 L282.8 449.6" stroke="#222" stroke-width="1" fill="none"/>
<circle cx="264.6" cy="471.2" r="4.2" stroke="#222" stroke-width="1" fill="none"/>
<path d="M269 471.8 L272.4 470 L271.8 473 Z" stroke="#000" stroke-width="0.3" fill="#000"/>
<circle cx="264.6" cy="479.8" r="4.2" stroke="#222" stroke-width="1" fill="none"/>
<path d="M269 480.4 L272.4 478.6 L271.8 481.6 Z" stroke="#000" stroke-width="0.3" fill="#000"/>
<line x1="264.6" y1="464.4" x2="264.6" y2="485.6" stroke="#222" stroke-width="1"/>
<circle cx="292.8" cy="471.2" r="4.2" stroke="#222" stroke-width="1" fill="none"/>
<path d="M297.2 471.8 L300.6 470 L300 473 Z" stroke="#000" stroke-width="0.3" fill="#000"/>
<circle cx="292.8" cy="479.8" r="4.2" stroke="#222" stroke-width="1" fill="none"/>
<path d="M297.2 480.4 L300.6 478.6 L300 481.6 Z" stroke="#000" stroke-width="0.3" fill="#000"/>
<line x1="292.8" y1="464.4" x2="292.8" y2="485.6" stroke="#222" stroke-width="1"/>
<line x1="278.7" y1="438.2" x2="278.7" y2="516" stroke="#000" stroke-width="1.1"/>
<path d="M276.8 492.2 L280.6 492.2 L278.7 495.5 Z" stroke="#000" stroke-width="0.5" fill="#000"/>
<circle cx="278.8" cy="506" r="4.4" stroke="#222" stroke-width="1" fill="none"/>
<line x1="280.6" y1="506" x2="280.6" y2="513.4" stroke="#222" stroke-width="1"/>
<line x1="280.6" y1="513.4" x2="285.3" y2="513.4" stroke="#222" stroke-width="1"/>
<line x1="285.3" y1="509.6" x2="285.3" y2="517.6" stroke="#222" stroke-width="1"/>
<line x1="287.6" y1="511.6" x2="287.6" y2="515.8" stroke="#555" stroke-width="0.8"/>
<circle cx="337.9" cy="397.1" r="1.75" stroke="#000" stroke-width="0.9" fill="#fff"/>
<line x1="337.9" y1="398.9" x2="337.9" y2="425.1" stroke="#000" stroke-width="1.1"/>
<path d="M333.8 416.5 L337.9 412.6 L342 416.5" stroke="#222" stroke-width="1" fill="none"/>
<path d="M333.8 418.7 L337.9 414.8 L342 418.7" stroke="#222" stroke-width="1" fill="none"/>
<line x1="336.3" y1="422.7" x2="340.1" y2="426.5" stroke="#000" stroke-width="0.9"/>
<line x1="336.3" y1="426.5" x2="340.1" y2="422.7" stroke="#000" stroke-width="0.9"/>
<path d="M329.5 425.3 Q334.7 431.2 337.9 438.2" stroke="#000" stroke-width="1" fill="none"/>
<path d="M333.8 451.8 L337.9 455.7 L342 451.8" stroke="#222" stroke-width="1" fill="none"/>
<path d="M333.8 449.6 L337.9 453.5 L342 449.6" stroke="#222" stroke-width="1" fill="none"/>
<circle cx="323.8" cy="471.2" r="4.2" stroke="#222" stroke-width="1" fill="none"/>
<path d="M328.2 471.8 L331.6 470 L331 473 Z" stroke="#000" stroke-width="0.3" fill="#000"/>
<circle cx="323.8" cy="479.8" r="4.2" stroke="#222" stroke-width="1" fill="none"/>
<path d="M328.2 480.4 L331.6 478.6 L331 481.6 Z" stroke="#000" stroke-width="0.3" fill="#000"/>
<line x1="323.8" y1="464.4" x2="323.8" y2="485.6" stroke="#222" stroke-width="1"/>
<circle cx="352" cy="471.2" r="4.2" stroke="#222" stroke-width="1" fill="none"/>
<path d="M356.4 471.8 L359.8 470 L359.2 473 Z" stroke="#000" stroke-width="0.3" fill="#000"/>
<circle cx="352" cy="479.8" r="4.2" stroke="#222" stroke-width="1" fill="none"/>
<path d="M356.4 480.4 L359.8 478.6 L359.2 481.6 Z" stroke="#000" stroke-width="0.3" fill="#000"/>
<line x1="352" y1="464.4" x2="352" y2="485.6" stroke="#222" stroke-width="1"/>
<line x1="337.9" y1="438.2" x2="337.9" y2="516" stroke="#000" stroke-width="1.1"/>
<path d="M336 492.2 L339.8 492.2 L337.9 495.5 Z" stroke="#000" stroke-width="0.5" fill="#000"/>
<circle cx="338" cy="506" r="4.4" stroke="#222" stroke-width="1" fill="none"/>
<line x1="339.8" y1="506" x2="339.8" y2="513.4" stroke="#222" stroke-width="1"/>
<line x1="339.8" y1="513.4" x2="344.5" y2="513.4" stroke="#222" stroke-width="1"/>
<line x1="344.5" y1="509.6" x2="344.5" y2="517.6" stroke="#222" stroke-width="1"/>
<line x1="346.8" y1="511.6" x2="346.8" y2="515.8" stroke="#555" stroke-width="0.8"/>
<circle cx="470.3" cy="397.1" r="1.75" stroke="#000" stroke-width="0.9" fill="#fff"/>
<line x1="470.3" y1="398.9" x2="470.3" y2="425.1" stroke="#000" stroke-width="1.1"/>
<path d="M466.2 416.5 L470.3 412.6 L474.4 416.5" stroke="#222" stroke-width="1" fill="none"/>
<path d="M466.2 418.7 L470.3 414.8 L474.4 418.7" stroke="#222" stroke-width="1" fill="none"/>
<line x1="468.7" y1="422.7" x2="472.5" y2="426.5" stroke="#000" stroke-width="0.9"/>
<line x1="468.7" y1="426.5" x2="472.5" y2="422.7" stroke="#000" stroke-width="0.9"/>
<path d="M461.9 425.3 Q467.1 431.2 470.3 438.2" stroke="#000" stroke-width="1" fill="none"/>
<path d="M466.2 451.8 L470.3 455.7 L474.4 451.8" stroke="#222" stroke-width="1" fill="none"/>
<path d="M466.2 449.6 L470.3 453.5 L474.4 449.6" stroke="#222" stroke-width="1" fill="none"/>
<circle cx="456.2" cy="471.2" r="4.2" stroke="#222" stroke-width="1" fill="none"/>
<path d="M460.6 471.8 L464 470 L463.4 473 Z" stroke="#000" stroke-width="0.3" fill="#000"/>
<circle cx="456.2" cy="479.8" r="4.2" stroke="#222" stroke-width="1" fill="none"/>
<path d="M460.6 480.4 L464 478.6 L463.4 481.6 Z" stroke="#000" stroke-width="0.3" fill="#000"/>
<line x1="456.2" y1="464.4" x2="456.2" y2="485.6" stroke="#222" stroke-width="1"/>
<circle cx="484.4" cy="471.2" r="4.2" stroke="#222" stroke-width="1" fill="none"/>
<path d="M488.8 471.8 L492.2 470 L491.6 473 Z" stroke="#000" stroke-width="0.3" fill="#000"/>
<circle cx="484.4" cy="479.8" r="4.2" stroke="#222" stroke-width="1" fill="none"/>
<path d="M488.8 480.4 L492.2 478.6 L491.6 481.6 Z" stroke="#000" stroke-width="0.3" fill="#000"/>
<line x1="484.4" y1="464.4" x2="484.4" y2="485.6" stroke="#222" stroke-width="1"/>
<line x1="470.3" y1="438.2" x2="470.3" y2="516" stroke="#000" stroke-width="1.1"/>
<path d="M468.4 492.2 L472.2 492.2 L470.3 495.5 Z" stroke="#000" stroke-width="0.5" fill="#000"/>
<circle cx="470.4" cy="506" r="4.4" stroke="#222" stroke-width="1" fill="none"/>
<line x1="472.2" y1="506" x2="472.2" y2="513.4" stroke="#222" stroke-width="1"/>
<line x1="472.2" y1="513.4" x2="476.9" y2="513.4" stroke="#222" stroke-width="1"/>
<line x1="476.9" y1="509.6" x2="476.9" y2="517.6" stroke="#222" stroke-width="1"/>
<line x1="479.2" y1="511.6" x2="479.2" y2="515.8" stroke="#555" stroke-width="0.8"/>
<circle cx="524.8" cy="397.1" r="1.75" stroke="#000" stroke-width="0.9" fill="#fff"/>
<line x1="524.8" y1="398.9" x2="524.8" y2="425.1" stroke="#000" stroke-width="1.1"/>
<path d="M520.7 416.5 L524.8 412.6 L528.9 416.5" stroke="#222" stroke-width="1" fill="none"/>
<path d="M520.7 418.7 L524.8 414.8 L528.9 418.7" stroke="#222" stroke-width="1" fill="none"/>
<line x1="523.2" y1="422.7" x2="527" y2="426.5" stroke="#000" stroke-width="0.9"/>
<line x1="523.2" y1="426.5" x2="527" y2="422.7" stroke="#000" stroke-width="0.9"/>
<path d="M516.4 425.3 Q521.6 431.2 524.8 438.2" stroke="#000" stroke-width="1" fill="none"/>
<path d="M520.7 451.8 L524.8 455.7 L528.9 451.8" stroke="#222" stroke-width="1" fill="none"/>
<path d="M520.7 449.6 L524.8 453.5 L528.9 449.6" stroke="#222" stroke-width="1" fill="none"/>
<circle cx="510.7" cy="471.2" r="4.2" stroke="#222" stroke-width="1" fill="none"/>
<path d="M515.1 471.8 L518.5 470 L517.9 473 Z" stroke="#000" stroke-width="0.3" fill="#000"/>
<circle cx="510.7" cy="479.8" r="4.2" stroke="#222" stroke-width="1" fill="none"/>
<path d="M515.1 480.4 L518.5 478.6 L517.9 481.6 Z" stroke="#000" stroke-width="0.3" fill="#000"/>
<line x1="510.7" y1="464.4" x2="510.7" y2="485.6" stroke="#222" stroke-width="1"/>
<circle cx="538.9" cy="471.2" r="4.2" stroke="#222" stroke-width="1" fill="none"/>
<path d="M543.3 471.8 L546.7 470 L546.1 473 Z" stroke="#000" stroke-width="0.3" fill="#000"/>
<circle cx="538.9" cy="479.8" r="4.2" stroke="#222" stroke-width="1" fill="none"/>
<path d="M543.3 480.4 L546.7 478.6 L546.1 481.6 Z" stroke="#000" stroke-width="0.3" fill="#000"/>
<line x1="538.9" y1="464.4" x2="538.9" y2="485.6" stroke="#222" stroke-width="1"/>
<line x1="524.8" y1="438.2" x2="524.8" y2="516" stroke="#000" stroke-width="1.1"/>
<path d="M522.9 492.2 L526.7 492.2 L524.8 495.5 Z" stroke="#000" stroke-width="0.5" fill="#000"/>
<circle cx="524.9" cy="506" r="4.4" stroke="#222" stroke-width="1" fill="none"/>
<line x1="526.7" y1="506" x2="526.7" y2="513.4" stroke="#222" stroke-width="1"/>
<line x1="526.7" y1="513.4" x2="531.4" y2="513.4" stroke="#222" stroke-width="1"/>
<line x1="531.4" y1="509.6" x2="531.4" y2="517.6" stroke="#222" stroke-width="1"/>
<line x1="533.7" y1="511.6" x2="533.7" y2="515.8" stroke="#555" stroke-width="0.8"/>
<circle cx="580.2" cy="397.1" r="1.75" stroke="#000" stroke-width="0.9" fill="#fff"/>
<line x1="580.2" y1="398.9" x2="580.2" y2="425.1" stroke="#000" stroke-width="1.1"/>
<path d="M576.1 416.5 L580.2 412.6 L584.3 416.5" stroke="#222" stroke-width="1" fill="none"/>
<path d="M576.1 418.7 L580.2 414.8 L584.3 418.7" stroke="#222" stroke-width="1" fill="none"/>
<line x1="578.6" y1="422.7" x2="582.4" y2="426.5" stroke="#000" stroke-width="0.9"/>
<line x1="578.6" y1="426.5" x2="582.4" y2="422.7" stroke="#000" stroke-width="0.9"/>
<path d="M571.8 425.3 Q577 431.2 580.2 438.2" stroke="#000" stroke-width="1" fill="none"/>
<path d="M576.1 451.8 L580.2 455.7 L584.3 451.8" stroke="#222" stroke-width="1" fill="none"/>
<path d="M576.1 449.6 L580.2 453.5 L584.3 449.6" stroke="#222" stroke-width="1" fill="none"/>
<circle cx="566.1" cy="471.2" r="4.2" stroke="#222" stroke-width="1" fill="none"/>
<path d="M570.5 471.8 L573.9 470 L573.3 473 Z" stroke="#000" stroke-width="0.3" fill="#000"/>
<circle cx="566.1" cy="479.8" r="4.2" stroke="#222" stroke-width="1" fill="none"/>
<path d="M570.5 480.4 L573.9 478.6 L573.3 481.6 Z" stroke="#000" stroke-width="0.3" fill="#000"/>
<line x1="566.1" y1="464.4" x2="566.1" y2="485.6" stroke="#222" stroke-width="1"/>
<circle cx="580.2" cy="471.2" r="4.2" stroke="#222" stroke-width="1" fill="none"/>
<path d="M584.6 471.8 L588 470 L587.4 473 Z" stroke="#000" stroke-width="0.3" fill="#000"/>
<circle cx="580.2" cy="479.8" r="4.2" stroke="#222" stroke-width="1" fill="none"/>
<path d="M584.6 480.4 L588 478.6 L587.4 481.6 Z" stroke="#000" stroke-width="0.3" fill="#000"/>
<circle cx="594.3" cy="471.2" r="4.2" stroke="#222" stroke-width="1" fill="none"/>
<path d="M598.7 471.8 L602.1 470 L601.5 473 Z" stroke="#000" stroke-width="0.3" fill="#000"/>
<circle cx="594.3" cy="479.8" r="4.2" stroke="#222" stroke-width="1" fill="none"/>
<path d="M598.7 480.4 L602.1 478.6 L601.5 481.6 Z" stroke="#000" stroke-width="0.3" fill="#000"/>
<line x1="594.3" y1="464.4" x2="594.3" y2="485.6" stroke="#222" stroke-width="1"/>
<line x1="580.2" y1="438.2" x2="580.2" y2="516.2" stroke="#000" stroke-width="1.1"/>
<line x1="580.2" y1="516.2" x2="656.7" y2="516.2" stroke="#000" stroke-width="1.1"/>
<line x1="656.7" y1="516.2" x2="656.7" y2="399" stroke="#000" stroke-width="1.1"/>
<circle cx="656.7" cy="397.4" r="1.75" stroke="#000" stroke-width="0.9" fill="#fff"/>
<path d="M652.1 420.8 L656.7 416.6 L661.3 420.8" stroke="#222" stroke-width="1" fill="none"/>
<path d="M652.1 423 L656.7 418.8 L661.3 423" stroke="#222" stroke-width="1" fill="none"/>
<path d="M652.1 455.4 L656.7 459.8 L661.3 455.4" stroke="#222" stroke-width="1" fill="none"/>
<path d="M652.1 453.2 L656.7 457.6 L661.3 453.2" stroke="#222" stroke-width="1" fill="none"/>
<circle cx="713.3" cy="397.1" r="1.75" stroke="#000" stroke-width="0.9" fill="#fff"/>
<line x1="713.3" y1="398.9" x2="713.3" y2="425.1" stroke="#000" stroke-width="1.1"/>
<path d="M709.2 416.5 L713.3 412.6 L717.4 416.5" stroke="#222" stroke-width="1" fill="none"/>
<path d="M709.2 418.7 L713.3 414.8 L717.4 418.7" stroke="#222" stroke-width="1" fill="none"/>
<line x1="711.7" y1="422.7" x2="715.5" y2="426.5" stroke="#000" stroke-width="0.9"/>
<line x1="711.7" y1="426.5" x2="715.5" y2="422.7" stroke="#000" stroke-width="0.9"/>
<path d="M704.9 425.3 Q710.1 431.2 713.3 438.2" stroke="#000" stroke-width="1" fill="none"/>
<path d="M709.2 451.8 L713.3 455.7 L717.4 451.8" stroke="#222" stroke-width="1" fill="none"/>
<path d="M709.2 449.6 L713.3 453.5 L717.4 449.6" stroke="#222" stroke-width="1" fill="none"/>
<circle cx="699.2" cy="471.2" r="4.2" stroke="#222" stroke-width="1" fill="none"/>
<path d="M703.6 471.8 L707 470 L706.4 473 Z" stroke="#000" stroke-width="0.3" fill="#000"/>
<circle cx="699.2" cy="479.8" r="4.2" stroke="#222" stroke-width="1" fill="none"/>
<path d="M703.6 480.4 L707 478.6 L706.4 481.6 Z" stroke="#000" stroke-width="0.3" fill="#000"/>
<line x1="699.2" y1="464.4" x2="699.2" y2="485.6" stroke="#222" stroke-width="1"/>
<circle cx="727.4" cy="471.2" r="4.2" stroke="#222" stroke-width="1" fill="none"/>
<path d="M731.8 471.8 L735.2 470 L734.6 473 Z" stroke="#000" stroke-width="0.3" fill="#000"/>
<circle cx="727.4" cy="479.8" r="4.2" stroke="#222" stroke-width="1" fill="none"/>
<path d="M731.8 480.4 L735.2 478.6 L734.6 481.6 Z" stroke="#000" stroke-width="0.3" fill="#000"/>
<line x1="727.4" y1="464.4" x2="727.4" y2="485.6" stroke="#222" stroke-width="1"/>
<line x1="713.3" y1="438.2" x2="713.3" y2="516" stroke="#000" stroke-width="1.1"/>
<path d="M711.4 492.2 L715.2 492.2 L713.3 495.5 Z" stroke="#000" stroke-width="0.5" fill="#000"/>
<circle cx="713.4" cy="506" r="4.4" stroke="#222" stroke-width="1" fill="none"/>
<line x1="715.2" y1="506" x2="715.2" y2="513.4" stroke="#222" stroke-width="1"/>
<line x1="715.2" y1="513.4" x2="719.9" y2="513.4" stroke="#222" stroke-width="1"/>
<line x1="719.9" y1="509.6" x2="719.9" y2="517.6" stroke="#222" stroke-width="1"/>
<line x1="722.2" y1="511.6" x2="722.2" y2="515.8" stroke="#555" stroke-width="0.8"/>
<circle cx="845.7" cy="397.1" r="1.75" stroke="#000" stroke-width="0.9" fill="#fff"/>
<line x1="845.7" y1="398.9" x2="845.7" y2="425.1" stroke="#000" stroke-width="1.1"/>
<path d="M841.6 416.5 L845.7 412.6 L849.8 416.5" stroke="#222" stroke-width="1" fill="none"/>
<path d="M841.6 418.7 L845.7 414.8 L849.8 418.7" stroke="#222" stroke-width="1" fill="none"/>
<line x1="844.1" y1="422.7" x2="847.9" y2="426.5" stroke="#000" stroke-width="0.9"/>
<line x1="844.1" y1="426.5" x2="847.9" y2="422.7" stroke="#000" stroke-width="0.9"/>
<path d="M837.3 425.3 Q842.5 431.2 845.7 438.2" stroke="#000" stroke-width="1" fill="none"/>
<path d="M841.6 451.8 L845.7 455.7 L849.8 451.8" stroke="#222" stroke-width="1" fill="none"/>
<path d="M841.6 449.6 L845.7 453.5 L849.8 449.6" stroke="#222" stroke-width="1" fill="none"/>
<circle cx="831.6" cy="471.2" r="4.2" stroke="#222" stroke-width="1" fill="none"/>
<path d="M836 471.8 L839.4 470 L838.8 473 Z" stroke="#000" stroke-width="0.3" fill="#000"/>
<circle cx="831.6" cy="479.8" r="4.2" stroke="#222" stroke-width="1" fill="none"/>
<path d="M836 480.4 L839.4 478.6 L838.8 481.6 Z" stroke="#000" stroke-width="0.3" fill="#000"/>
<line x1="831.6" y1="464.4" x2="831.6" y2="485.6" stroke="#222" stroke-width="1"/>
<circle cx="859.8" cy="471.2" r="4.2" stroke="#222" stroke-width="1" fill="none"/>
<path d="M864.2 471.8 L867.6 470 L867 473 Z" stroke="#000" stroke-width="0.3" fill="#000"/>
<circle cx="859.8" cy="479.8" r="4.2" stroke="#222" stroke-width="1" fill="none"/>
<path d="M864.2 480.4 L867.6 478.6 L867 481.6 Z" stroke="#000" stroke-width="0.3" fill="#000"/>
<line x1="859.8" y1="464.4" x2="859.8" y2="485.6" stroke="#222" stroke-width="1"/>
<line x1="845.7" y1="438.2" x2="845.7" y2="516" stroke="#000" stroke-width="1.1"/>
<path d="M843.8 492.2 L847.6 492.2 L845.7 495.5 Z" stroke="#000" stroke-width="0.5" fill="#000"/>
<circle cx="845.8" cy="506" r="4.4" stroke="#222" stroke-width="1" fill="none"/>
<line x1="847.6" y1="506" x2="847.6" y2="513.4" stroke="#222" stroke-width="1"/>
<line x1="847.6" y1="513.4" x2="852.3" y2="513.4" stroke="#222" stroke-width="1"/>
<line x1="852.3" y1="509.6" x2="852.3" y2="517.6" stroke="#222" stroke-width="1"/>
<line x1="854.6" y1="511.6" x2="854.6" y2="515.8" stroke="#555" stroke-width="0.8"/>
<circle cx="900.3" cy="397.1" r="1.75" stroke="#000" stroke-width="0.9" fill="#fff"/>
<line x1="900.3" y1="398.9" x2="900.3" y2="425.1" stroke="#000" stroke-width="1.1"/>
<path d="M896.2 416.5 L900.3 412.6 L904.4 416.5" stroke="#222" stroke-width="1" fill="none"/>
<path d="M896.2 418.7 L900.3 414.8 L904.4 418.7" stroke="#222" stroke-width="1" fill="none"/>
<line x1="898.7" y1="422.7" x2="902.5" y2="426.5" stroke="#000" stroke-width="0.9"/>
<line x1="898.7" y1="426.5" x2="902.5" y2="422.7" stroke="#000" stroke-width="0.9"/>
<path d="M891.9 425.3 Q897.1 431.2 900.3 438.2" stroke="#000" stroke-width="1" fill="none"/>
<path d="M896.2 451.8 L900.3 455.7 L904.4 451.8" stroke="#222" stroke-width="1" fill="none"/>
<path d="M896.2 449.6 L900.3 453.5 L904.4 449.6" stroke="#222" stroke-width="1" fill="none"/>
<circle cx="886.2" cy="471.2" r="4.2" stroke="#222" stroke-width="1" fill="none"/>
<path d="M890.6 471.8 L894 470 L893.4 473 Z" stroke="#000" stroke-width="0.3" fill="#000"/>
<circle cx="886.2" cy="479.8" r="4.2" stroke="#222" stroke-width="1" fill="none"/>
<path d="M890.6 480.4 L894 478.6 L893.4 481.6 Z" stroke="#000" stroke-width="0.3" fill="#000"/>
<line x1="886.2" y1="464.4" x2="886.2" y2="485.6" stroke="#222" stroke-width="1"/>
<circle cx="914.4" cy="471.2" r="4.2" stroke="#222" stroke-width="1" fill="none"/>
<path d="M918.8 471.8 L922.2 470 L921.6 473 Z" stroke="#000" stroke-width="0.3" fill="#000"/>
<circle cx="914.4" cy="479.8" r="4.2" stroke="#222" stroke-width="1" fill="none"/>
<path d="M918.8 480.4 L922.2 478.6 L921.6 481.6 Z" stroke="#000" stroke-width="0.3" fill="#000"/>
<line x1="914.4" y1="464.4" x2="914.4" y2="485.6" stroke="#222" stroke-width="1"/>
<line x1="900.3" y1="438.2" x2="900.3" y2="516" stroke="#000" stroke-width="1.1"/>
<path d="M898.4 492.2 L902.2 492.2 L900.3 495.5 Z" stroke="#000" stroke-width="0.5" fill="#000"/>
<circle cx="900.4" cy="506" r="4.4" stroke="#222" stroke-width="1" fill="none"/>
<line x1="902.2" y1="506" x2="902.2" y2="513.4" stroke="#222" stroke-width="1"/>
<line x1="902.2" y1="513.4" x2="906.9" y2="513.4" stroke="#222" stroke-width="1"/>
<line x1="906.9" y1="509.6" x2="906.9" y2="517.6" stroke="#222" stroke-width="1"/>
<line x1="909.2" y1="511.6" x2="909.2" y2="515.8" stroke="#555" stroke-width="0.8"/>
<circle cx="956.5" cy="397.1" r="1.75" stroke="#000" stroke-width="0.9" fill="#fff"/>
<line x1="956.5" y1="398.9" x2="956.5" y2="425.1" stroke="#000" stroke-width="1.1"/>
<path d="M952.4 416.5 L956.5 412.6 L960.6 416.5" stroke="#222" stroke-width="1" fill="none"/>
<path d="M952.4 418.7 L956.5 414.8 L960.6 418.7" stroke="#222" stroke-width="1" fill="none"/>
<line x1="954.9" y1="422.7" x2="958.7" y2="426.5" stroke="#000" stroke-width="0.9"/>
<line x1="954.9" y1="426.5" x2="958.7" y2="422.7" stroke="#000" stroke-width="0.9"/>
<path d="M948.1 425.3 Q953.3 431.2 956.5 438.2" stroke="#000" stroke-width="1" fill="none"/>
<path d="M952.4 451.8 L956.5 455.7 L960.6 451.8" stroke="#222" stroke-width="1" fill="none"/>
<path d="M952.4 449.6 L956.5 453.5 L960.6 449.6" stroke="#222" stroke-width="1" fill="none"/>
<circle cx="942.4" cy="471.2" r="4.2" stroke="#222" stroke-width="1" fill="none"/>
<path d="M946.8 471.8 L950.2 470 L949.6 473 Z" stroke="#000" stroke-width="0.3" fill="#000"/>
<circle cx="942.4" cy="479.8" r="4.2" stroke="#222" stroke-width="1" fill="none"/>
<path d="M946.8 480.4 L950.2 478.6 L949.6 481.6 Z" stroke="#000" stroke-width="0.3" fill="#000"/>
<line x1="942.4" y1="464.4" x2="942.4" y2="485.6" stroke="#222" stroke-width="1"/>
<circle cx="970.6" cy="471.2" r="4.2" stroke="#222" stroke-width="1" fill="none"/>
<path d="M975 471.8 L978.4 470 L977.8 473 Z" stroke="#000" stroke-width="0.3" fill="#000"/>
<circle cx="970.6" cy="479.8" r="4.2" stroke="#222" stroke-width="1" fill="none"/>
<path d="M975 480.4 L978.4 478.6 L977.8 481.6 Z" stroke="#000" stroke-width="0.3" fill="#000"/>
<line x1="970.6" y1="464.4" x2="970.6" y2="485.6" stroke="#222" stroke-width="1"/>
<line x1="956.5" y1="438.2" x2="956.5" y2="516" stroke="#000" stroke-width="1.1"/>
<path d="M954.6 492.2 L958.4 492.2 L956.5 495.5 Z" stroke="#000" stroke-width="0.5" fill="#000"/>
<circle cx="956.6" cy="506" r="4.4" stroke="#222" stroke-width="1" fill="none"/>
<line x1="958.4" y1="506" x2="958.4" y2="513.4" stroke="#222" stroke-width="1"/>
<line x1="958.4" y1="513.4" x2="963.1" y2="513.4" stroke="#222" stroke-width="1"/>
<line x1="963.1" y1="509.6" x2="963.1" y2="517.6" stroke="#222" stroke-width="1"/>
<line x1="965.4" y1="511.6" x2="965.4" y2="515.8" stroke="#555" stroke-width="0.8"/>
<circle cx="1026.5" cy="397.1" r="1.75" stroke="#000" stroke-width="0.9" fill="#fff"/>
<line x1="1026.5" y1="398.9" x2="1026.5" y2="425.1" stroke="#000" stroke-width="1.1"/>
<path d="M1022.4 416.5 L1026.5 412.6 L1030.6 416.5" stroke="#222" stroke-width="1" fill="none"/>
<path d="M1022.4 418.7 L1026.5 414.8 L1030.6 418.7" stroke="#222" stroke-width="1" fill="none"/>
<line x1="1024.9" y1="422.7" x2="1028.7" y2="426.5" stroke="#000" stroke-width="0.9"/>
<line x1="1024.9" y1="426.5" x2="1028.7" y2="422.7" stroke="#000" stroke-width="0.9"/>
<path d="M1018.1 425.3 Q1023.3 431.2 1026.5 438.2" stroke="#000" stroke-width="1" fill="none"/>
<path d="M1022.4 451.8 L1026.5 455.7 L1030.6 451.8" stroke="#222" stroke-width="1" fill="none"/>
<path d="M1022.4 449.6 L1026.5 453.5 L1030.6 449.6" stroke="#222" stroke-width="1" fill="none"/>
<circle cx="1012.4" cy="471.2" r="4.2" stroke="#222" stroke-width="1" fill="none"/>
<path d="M1016.8 471.8 L1020.2 470 L1019.6 473 Z" stroke="#000" stroke-width="0.3" fill="#000"/>
<circle cx="1012.4" cy="479.8" r="4.2" stroke="#222" stroke-width="1" fill="none"/>
<path d="M1016.8 480.4 L1020.2 478.6 L1019.6 481.6 Z" stroke="#000" stroke-width="0.3" fill="#000"/>
<line x1="1012.4" y1="464.4" x2="1012.4" y2="485.6" stroke="#222" stroke-width="1"/>
<circle cx="1040.6" cy="471.2" r="4.2" stroke="#222" stroke-width="1" fill="none"/>
<path d="M1045 471.8 L1048.4 470 L1047.8 473 Z" stroke="#000" stroke-width="0.3" fill="#000"/>
<circle cx="1040.6" cy="479.8" r="4.2" stroke="#222" stroke-width="1" fill="none"/>
<path d="M1045 480.4 L1048.4 478.6 L1047.8 481.6 Z" stroke="#000" stroke-width="0.3" fill="#000"/>
<line x1="1040.6" y1="464.4" x2="1040.6" y2="485.6" stroke="#222" stroke-width="1"/>
<line x1="1026.5" y1="438.2" x2="1026.5" y2="516" stroke="#000" stroke-width="1.1"/>
<path d="M1024.6 492.2 L1028.4 492.2 L1026.5 495.5 Z" stroke="#000" stroke-width="0.5" fill="#000"/>
<circle cx="1026.6" cy="506" r="4.4" stroke="#222" stroke-width="1" fill="none"/>
<line x1="1028.4" y1="506" x2="1028.4" y2="513.4" stroke="#222" stroke-width="1"/>
<line x1="1028.4" y1="513.4" x2="1033.1" y2="513.4" stroke="#222" stroke-width="1"/>
<line x1="1033.1" y1="509.6" x2="1033.1" y2="517.6" stroke="#222" stroke-width="1"/>
<line x1="1035.4" y1="511.6" x2="1035.4" y2="515.8" stroke="#555" stroke-width="0.8"/>
<circle cx="434" cy="397" r="1.75" stroke="#000" stroke-width="0.9" fill="#fff"/>
<circle cx="794" cy="397.4" r="1.75" stroke="#000" stroke-width="0.9" fill="#fff"/>
<path d="M400.1 398 L401.6 396 L403.1 398 Z" stroke="#000" stroke-width="0.5" fill="#000"/>
<line x1="401.6" y1="397.5" x2="401.6" y2="467" stroke="#000" stroke-width="2.9"/>
<path d="M398.4 420 L401.6 416.4 L404.8 420" stroke="#333" stroke-width="1" fill="none"/>
<line x1="382.1" y1="432.4" x2="421.1" y2="432.4" stroke="#000" stroke-width="2.9"/>
<line x1="383.6" y1="432.4" x2="383.6" y2="470" stroke="#000" stroke-width="2.9"/>
<line x1="419.6" y1="432.4" x2="419.6" y2="480" stroke="#000" stroke-width="2.9"/>
<rect x="381.4" y="447.6" width="4.4" height="10.6" stroke="#333" stroke-width="0.9" fill="#fff"/>
<line x1="383.6" y1="450.5" x2="383.6" y2="455.5" stroke="#333" stroke-width="1.2"/>
<line x1="401.6" y1="449" x2="401.6" y2="465.5" stroke="#000" stroke-width="4.6" stroke-linecap="round"/>
<line x1="419.6" y1="448.5" x2="419.6" y2="458" stroke="#000" stroke-width="4.8" stroke-linecap="round"/>
<line x1="421.2" y1="449" x2="421.2" y2="457.6" stroke="#fff" stroke-width="0.8"/>
<line x1="381" y1="470" x2="386.2" y2="470" stroke="#000" stroke-width="1"/>
<text x="390.6" y="457.6" font-size="7.4" textLength="6.6" lengthAdjust="spacingAndGlyphs">Fu</text>
<text x="415.2" y="471.5" font-size="7.2" textLength="26.5" lengthAdjust="spacingAndGlyphs" transform="rotate(-90 415.2 471.5)">JDZJ-10)</text>
<line x1="396" y1="462" x2="395.2" y2="465" stroke="#000" stroke-width="1.4"/>
<path d="M396 468 Q398.6 473 401.6 478" stroke="#000" stroke-width="1" fill="none"/>
<line x1="401.6" y1="478" x2="401.6" y2="522" stroke="#000" stroke-width="2.9"/>
<line x1="382.1" y1="483" x2="403.1" y2="483" stroke="#000" stroke-width="2.9"/>
<line x1="383.6" y1="483" x2="383.6" y2="490.4" stroke="#000" stroke-width="2.9"/>
<line x1="377.8" y1="489" x2="383.6" y2="499.6" stroke="#000" stroke-width="1"/>
<line x1="383.6" y1="499.6" x2="383.6" y2="511" stroke="#000" stroke-width="2.9"/>
<line x1="382.1" y1="511" x2="417.6" y2="511" stroke="#000" stroke-width="2.9"/>
<line x1="416.1" y1="511" x2="416.1" y2="493" stroke="#000" stroke-width="2.9"/>
<rect x="399.3" y="489.6" width="4.6" height="10.4" stroke="#333" stroke-width="0.9" fill="#fff"/>
<line x1="401.6" y1="490" x2="401.6" y2="499.6" stroke="#555" stroke-width="0.8"/>
<text x="390.6" y="496.8" font-size="6.6" textLength="6" lengthAdjust="spacingAndGlyphs">PN</text>
<line x1="398.8" y1="522" x2="404.4" y2="522" stroke="#000" stroke-width="1"/>
<circle cx="419.2" cy="484" r="7" stroke="#222" stroke-width="1" fill="none"/>
<circle cx="414.4" cy="493" r="7" stroke="#222" stroke-width="1" fill="none"/>
<circle cx="425" cy="493" r="7" stroke="#222" stroke-width="1" fill="none"/>
<path d="M419.2 481 L419.2 484 M419.2 484 L417.2 486 M419.2 484 L421.2 486" stroke="#333" stroke-width="0.8" fill="none"/>
<path d="M423.6 491 L423.6 495 L427.6 495" stroke="#333" stroke-width="0.8" fill="none"/>
<path d="M766.1 398 L767.6 396 L769.1 398 Z" stroke="#000" stroke-width="0.5" fill="#000"/>
<line x1="767.6" y1="397.5" x2="767.6" y2="467" stroke="#000" stroke-width="2.9"/>
<path d="M764.4 420 L767.6 416.4 L770.8 420" stroke="#333" stroke-width="1" fill="none"/>
<line x1="748.1" y1="432.4" x2="787.1" y2="432.4" stroke="#000" stroke-width="2.9"/>
<line x1="749.6" y1="432.4" x2="749.6" y2="470" stroke="#000" stroke-width="2.9"/>
<line x1="785.6" y1="432.4" x2="785.6" y2="480" stroke="#000" stroke-width="2.9"/>
<rect x="747.4" y="447.6" width="4.4" height="10.6" stroke="#333" stroke-width="0.9" fill="#fff"/>
<line x1="749.6" y1="450.5" x2="749.6" y2="455.5" stroke="#333" stroke-width="1.2"/>
<rect x="765.4" y="447.4" width="4.4" height="11.6" stroke="#444" stroke-width="0.9" fill="#bbb"/>
<line x1="785.6" y1="448.5" x2="785.6" y2="458" stroke="#000" stroke-width="4.8" stroke-linecap="round"/>
<line x1="787.2" y1="449" x2="787.2" y2="457.6" stroke="#fff" stroke-width="0.8"/>
<line x1="747" y1="470" x2="752.2" y2="470" stroke="#000" stroke-width="1"/>
<text x="756.6" y="457.6" font-size="7.4" textLength="6.6" lengthAdjust="spacingAndGlyphs">Fu</text>
<text x="781.2" y="471.5" font-size="7.2" textLength="26.5" lengthAdjust="spacingAndGlyphs" transform="rotate(-90 781.2 471.5)">JDZJ-10)</text>
<line x1="762" y1="462" x2="761.2" y2="465" stroke="#000" stroke-width="1.4"/>
<path d="M762 468 Q764.6 473 767.6 478" stroke="#000" stroke-width="1" fill="none"/>
<line x1="767.6" y1="478" x2="767.6" y2="522" stroke="#000" stroke-width="2.9"/>
<line x1="748.1" y1="483" x2="769.1" y2="483" stroke="#000" stroke-width="2.9"/>
<line x1="749.6" y1="483" x2="749.6" y2="490.4" stroke="#000" stroke-width="2.9"/>
<line x1="743.8" y1="489" x2="749.6" y2="499.6" stroke="#000" stroke-width="1"/>
<line x1="749.6" y1="499.6" x2="749.6" y2="511" stroke="#000" stroke-width="2.9"/>
<line x1="748.1" y1="511" x2="783.6" y2="511" stroke="#000" stroke-width="2.9"/>
<line x1="782.1" y1="511" x2="782.1" y2="493" stroke="#000" stroke-width="2.9"/>
<rect x="765.3" y="489.6" width="4.6" height="10.4" stroke="#333" stroke-width="0.9" fill="#fff"/>
<line x1="767.6" y1="490" x2="767.6" y2="499.6" stroke="#555" stroke-width="0.8"/>
<text x="756.6" y="496.8" font-size="6.6" textLength="6" lengthAdjust="spacingAndGlyphs">PN</text>
<line x1="764.8" y1="522" x2="770.4" y2="522" stroke="#000" stroke-width="1"/>
<circle cx="785.2" cy="484" r="7" stroke="#222" stroke-width="1" fill="none"/>
<circle cx="780.4" cy="493" r="7" stroke="#222" stroke-width="1" fill="none"/>
<circle cx="791" cy="493" r="7" stroke="#222" stroke-width="1" fill="none"/>
<path d="M785.2 481 L785.2 484 M785.2 484 L783.2 486 M785.2 484 L787.2 486" stroke="#333" stroke-width="0.8" fill="none"/>
<path d="M789.6 491 L789.6 495 L793.6 495" stroke="#333" stroke-width="0.8" fill="none"/>
<line x1="30.5" y1="399.5" x2="30.5" y2="599" stroke="#000" stroke-width="1.2"/>
<line x1="35.5" y1="399.5" x2="35.5" y2="599" stroke="#000" stroke-width="1"/>
<text x="49.8" y="533.7" font-size="7.7" textLength="13.2" lengthAdjust="spacingAndGlyphs">210K</text>
<text x="52.7" y="545" font-size="7.4" textLength="10.3" lengthAdjust="spacingAndGlyphs">23K</text>
<text x="48.3" y="554.6" font-size="6.8" textLength="15.4" lengthAdjust="spacingAndGlyphs" font-weight="bold">输煤线</text>
<text x="106" y="533.7" font-size="7.7" textLength="13.3" lengthAdjust="spacingAndGlyphs">209K</text>
<text x="109.8" y="545" font-size="7.4" textLength="9.5" lengthAdjust="spacingAndGlyphs">22K</text>
<text x="101.3" y="554.6" font-size="6.8" textLength="18.3" lengthAdjust="spacingAndGlyphs" font-weight="bold">水泵房备</text>
<text x="160.3" y="533.7" font-size="7.7" textLength="13.9" lengthAdjust="spacingAndGlyphs">208K</text>
<text x="163" y="545" font-size="7.4" textLength="10" lengthAdjust="spacingAndGlyphs">21K</text>
<text x="159" y="554.6" font-size="6.8" textLength="13" lengthAdjust="spacingAndGlyphs" font-weight="bold">集电条</text>
<text x="216.1" y="533.7" font-size="7.7" textLength="13.9" lengthAdjust="spacingAndGlyphs">206K</text>
<text x="218.7" y="545" font-size="7.4" textLength="10.6" lengthAdjust="spacingAndGlyphs">20K</text>
<text x="216.1" y="554.6" font-size="6.8" textLength="13.6" lengthAdjust="spacingAndGlyphs" font-weight="bold">变电站</text>
<text x="271.4" y="533.7" font-size="7.7" textLength="13.5" lengthAdjust="spacingAndGlyphs">205K</text>
<text x="273.2" y="545" font-size="7.4" textLength="10" lengthAdjust="spacingAndGlyphs">19K</text>
<text x="270" y="554.6" font-size="6.8" textLength="13.9" lengthAdjust="spacingAndGlyphs" font-weight="bold">焙烧变</text>
<text x="330" y="533.7" font-size="7.7" textLength="13.5" lengthAdjust="spacingAndGlyphs">204K</text>
<text x="332.5" y="545" font-size="7.4" textLength="9.5" lengthAdjust="spacingAndGlyphs">16K</text>
<text x="329.1" y="554.6" font-size="6.8" textLength="13.2" lengthAdjust="spacingAndGlyphs" font-weight="bold">冲电站</text>
<text x="393.3" y="536.2" font-size="8.2" textLength="13.8" lengthAdjust="spacingAndGlyphs">207K</text>
<text x="395.2" y="544.4" font-size="7.2" textLength="9.4" lengthAdjust="spacingAndGlyphs">15K</text>
<text x="384.7" y="556" font-size="7" textLength="27.5" lengthAdjust="spacingAndGlyphs" font-weight="bold">I段母PT柜</text>
<text x="461.1" y="534.3" font-size="8" textLength="13.7" lengthAdjust="spacingAndGlyphs">203K</text>
<text x="464" y="542.8" font-size="6.8" textLength="9.8" lengthAdjust="spacingAndGlyphs">14K</text>
<text x="455.8" y="554.8" font-size="6.6" textLength="19.9" lengthAdjust="spacingAndGlyphs" font-weight="bold">办公照明</text>
<text x="518" y="534.3" font-size="8" textLength="13.6" lengthAdjust="spacingAndGlyphs">202K</text>
<text x="519.9" y="542.8" font-size="6.8" textLength="7.9" lengthAdjust="spacingAndGlyphs">15K</text>
<text x="512.7" y="555.2" font-size="6.8" textLength="24.2" lengthAdjust="spacingAndGlyphs" font-weight="bold">化工厂备用</text>
<text x="573.7" y="534.3" font-size="8" textLength="14.4" lengthAdjust="spacingAndGlyphs">201K</text>
<text x="575.2" y="545.7" font-size="7.2" textLength="9.5" lengthAdjust="spacingAndGlyphs">12K</text>
<text x="649.9" y="530.4" font-size="6.8" textLength="12.5" lengthAdjust="spacingAndGlyphs">101K</text>
<text x="650.4" y="541.2" font-size="6.8" textLength="8.6" lengthAdjust="spacingAndGlyphs">11K</text>
<text x="704" y="531" font-size="6.8" textLength="13.3" lengthAdjust="spacingAndGlyphs">102K</text>
<text x="706.3" y="541.8" font-size="6.8" textLength="9.5" lengthAdjust="spacingAndGlyphs">10K</text>
<text x="696.5" y="553.4" font-size="6" textLength="23.1" lengthAdjust="spacingAndGlyphs" font-weight="bold">0#站用变</text>
<text x="758.4" y="535.5" font-size="7.2" textLength="13.3" lengthAdjust="spacingAndGlyphs">106K</text>
<text x="764.1" y="544.6" font-size="6.8" textLength="6.7" lengthAdjust="spacingAndGlyphs">9K</text>
<text x="749.5" y="555.6" font-size="6.4" textLength="28.5" lengthAdjust="spacingAndGlyphs" font-weight="bold">II段母PT柜</text>
<text x="836.7" y="531" font-size="6.8" textLength="13.3" lengthAdjust="spacingAndGlyphs">103K</text>
<text x="840" y="541.8" font-size="6.8" textLength="6.6" lengthAdjust="spacingAndGlyphs">7K</text>
<text x="837.1" y="554.4" font-size="6.4" textLength="13.2" lengthAdjust="spacingAndGlyphs" font-weight="bold">加热变</text>
<text x="889.5" y="530.4" font-size="6.8" textLength="13.7" lengthAdjust="spacingAndGlyphs">104K</text>
<text x="894.6" y="541.8" font-size="6.8" textLength="7.6" lengthAdjust="spacingAndGlyphs">6K</text>
<text x="891.8" y="552.8" font-size="6.4" textLength="13.6" lengthAdjust="spacingAndGlyphs" font-weight="bold">润散变</text>
<text x="950" y="530.4" font-size="6.8" textLength="13.8" lengthAdjust="spacingAndGlyphs">106K</text>
<text x="954" y="541.8" font-size="6.8" textLength="7" lengthAdjust="spacingAndGlyphs">4K</text>
<text x="945.4" y="553.6" font-size="6.4" textLength="19.4" lengthAdjust="spacingAndGlyphs" font-weight="bold">二线电机</text>
<text x="1015.5" y="530.4" font-size="6.8" textLength="12.7" lengthAdjust="spacingAndGlyphs">105K</text>
<text x="1019.7" y="541.8" font-size="6.8" textLength="7.6" lengthAdjust="spacingAndGlyphs">2K</text>
<text x="1013" y="553.6" font-size="6.4" textLength="19" lengthAdjust="spacingAndGlyphs" font-weight="bold">水源深井</text>
<path d="M0 599 L715.5 599 L715.5 604.5 L0 604.5" stroke="#333" stroke-width="1.1" fill="none"/>
<path d="M1161 598 L772 598 L772 605.5 L1161 605.5" stroke="#333" stroke-width="1.1" fill="none"/>
<text x="203.7" y="596.2" font-size="10.2" textLength="67.7" lengthAdjust="spacingAndGlyphs" class="ns">TMY-3*2(80X10)</text>
<text x="1140" y="595.8" font-size="10.2" textLength="32" lengthAdjust="spacingAndGlyphs" class="ns">TMY-3*</text>
<path d="M687.5 599 L687.5 571.5 L1161 571.5" stroke="#333" stroke-width="1.1" fill="none"/>
<path d="M693.5 599 L693.5 577 L1161 577" stroke="#333" stroke-width="1.1" fill="none"/>
<text x="1133.2" y="565" font-size="10.8" textLength="34.8" lengthAdjust="spacingAndGlyphs" class="ns">SFM-TJ</text>
<text x="1078.5" y="562.4" font-size="5.2" textLength="38.5" lengthAdjust="spacingAndGlyphs" font-weight="bold">炭素厂高压配电线</text>
<path d="M0 591.5 L17.5 591.5 L17.5 768.5 L0 768.5" stroke="#333" stroke-width="1.1" fill="none"/>
<text x="-2.2" y="645.6" font-size="8">A</text>
<circle cx="47" cy="601.3" r="1.75" stroke="#000" stroke-width="0.9" fill="#fff"/>
<line x1="47" y1="603.1" x2="47" y2="629.3" stroke="#000" stroke-width="1.1"/>
<path d="M42.9 620.7 L47 616.8 L51.1 620.7" stroke="#222" stroke-width="1" fill="none"/>
<path d="M42.9 622.9 L47 619 L51.1 622.9" stroke="#222" stroke-width="1" fill="none"/>
<line x1="45.4" y1="626.9" x2="49.2" y2="630.7" stroke="#000" stroke-width="0.9"/>
<line x1="45.4" y1="630.7" x2="49.2" y2="626.9" stroke="#000" stroke-width="0.9"/>
<path d="M38.6 629.5 Q43.8 635.4 47 642.4" stroke="#000" stroke-width="1" fill="none"/>
<path d="M42.9 656 L47 659.9 L51.1 656" stroke="#222" stroke-width="1" fill="none"/>
<path d="M42.9 653.8 L47 657.7 L51.1 653.8" stroke="#222" stroke-width="1" fill="none"/>
<circle cx="32.9" cy="675.4" r="4.2" stroke="#222" stroke-width="1" fill="none"/>
<path d="M37.3 676 L40.7 674.2 L40.1 677.2 Z" stroke="#000" stroke-width="0.3" fill="#000"/>
<circle cx="32.9" cy="684" r="4.2" stroke="#222" stroke-width="1" fill="none"/>
<path d="M37.3 684.6 L40.7 682.8 L40.1 685.8 Z" stroke="#000" stroke-width="0.3" fill="#000"/>
<line x1="32.9" y1="668.6" x2="32.9" y2="689.8" stroke="#222" stroke-width="1"/>
<circle cx="61.1" cy="675.4" r="4.2" stroke="#222" stroke-width="1" fill="none"/>
<path d="M65.5 676 L68.9 674.2 L68.3 677.2 Z" stroke="#000" stroke-width="0.3" fill="#000"/>
<circle cx="61.1" cy="684" r="4.2" stroke="#222" stroke-width="1" fill="none"/>
<path d="M65.5 684.6 L68.9 682.8 L68.3 685.8 Z" stroke="#000" stroke-width="0.3" fill="#000"/>
<line x1="61.1" y1="668.6" x2="61.1" y2="689.8" stroke="#222" stroke-width="1"/>
<line x1="47" y1="642.4" x2="47" y2="720.2" stroke="#000" stroke-width="1.1"/>
<path d="M45.1 696.4 L48.9 696.4 L47 699.7 Z" stroke="#000" stroke-width="0.5" fill="#000"/>
<circle cx="47.1" cy="710.2" r="4.4" stroke="#222" stroke-width="1" fill="none"/>
<line x1="48.9" y1="710.2" x2="48.9" y2="717.6" stroke="#222" stroke-width="1"/>
<line x1="48.9" y1="717.6" x2="53.6" y2="717.6" stroke="#222" stroke-width="1"/>
<line x1="53.6" y1="713.8" x2="53.6" y2="721.8" stroke="#222" stroke-width="1"/>
<line x1="55.9" y1="715.8" x2="55.9" y2="720" stroke="#555" stroke-width="0.8"/>
<circle cx="140.5" cy="601.3" r="1.75" stroke="#000" stroke-width="0.9" fill="#fff"/>
<line x1="140.5" y1="603.1" x2="140.5" y2="633.7" stroke="#000" stroke-width="1.1"/>
<path d="M136.4 625.1 L140.5 621.2 L144.6 625.1" stroke="#222" stroke-width="1" fill="none"/>
<path d="M136.4 627.3 L140.5 623.4 L144.6 627.3" stroke="#222" stroke-width="1" fill="none"/>
<line x1="138.9" y1="631.3" x2="142.7" y2="635.1" stroke="#000" stroke-width="0.9"/>
<line x1="138.9" y1="635.1" x2="142.7" y2="631.3" stroke="#000" stroke-width="0.9"/>
<path d="M132.1 633.9 Q137.3 639.8 140.5 646.8" stroke="#000" stroke-width="1" fill="none"/>
<path d="M136.4 660.4 L140.5 664.3 L144.6 660.4" stroke="#222" stroke-width="1" fill="none"/>
<path d="M136.4 658.2 L140.5 662.1 L144.6 658.2" stroke="#222" stroke-width="1" fill="none"/>
<circle cx="126.4" cy="679.8" r="4.2" stroke="#222" stroke-width="1" fill="none"/>
<path d="M130.8 680.4 L134.2 678.6 L133.6 681.6 Z" stroke="#000" stroke-width="0.3" fill="#000"/>
<circle cx="126.4" cy="688.4" r="4.2" stroke="#222" stroke-width="1" fill="none"/>
<path d="M130.8 689 L134.2 687.2 L133.6 690.2 Z" stroke="#000" stroke-width="0.3" fill="#000"/>
<line x1="126.4" y1="673" x2="126.4" y2="694.2" stroke="#222" stroke-width="1"/>
<circle cx="140.5" cy="679.8" r="4.2" stroke="#222" stroke-width="1" fill="none"/>
<path d="M144.9 680.4 L148.3 678.6 L147.7 681.6 Z" stroke="#000" stroke-width="0.3" fill="#000"/>
<circle cx="140.5" cy="688.4" r="4.2" stroke="#222" stroke-width="1" fill="none"/>
<path d="M144.9 689 L148.3 687.2 L147.7 690.2 Z" stroke="#000" stroke-width="0.3" fill="#000"/>
<circle cx="154.6" cy="679.8" r="4.2" stroke="#222" stroke-width="1" fill="none"/>
<path d="M159 680.4 L162.4 678.6 L161.8 681.6 Z" stroke="#000" stroke-width="0.3" fill="#000"/>
<circle cx="154.6" cy="688.4" r="4.2" stroke="#222" stroke-width="1" fill="none"/>
<path d="M159 689 L162.4 687.2 L161.8 690.2 Z" stroke="#000" stroke-width="0.3" fill="#000"/>
<line x1="154.6" y1="673" x2="154.6" y2="694.2" stroke="#222" stroke-width="1"/>
<circle cx="194.5" cy="601.3" r="1.75" stroke="#000" stroke-width="0.9" fill="#fff"/>
<line x1="194.5" y1="603.1" x2="194.5" y2="629.3" stroke="#000" stroke-width="1.1"/>
<path d="M190.4 620.7 L194.5 616.8 L198.6 620.7" stroke="#222" stroke-width="1" fill="none"/>
<path d="M190.4 622.9 L194.5 619 L198.6 622.9" stroke="#222" stroke-width="1" fill="none"/>
<line x1="192.9" y1="626.9" x2="196.7" y2="630.7" stroke="#000" stroke-width="0.9"/>
<line x1="192.9" y1="630.7" x2="196.7" y2="626.9" stroke="#000" stroke-width="0.9"/>
<path d="M186.1 629.5 Q191.3 635.4 194.5 642.4" stroke="#000" stroke-width="1" fill="none"/>
<path d="M190.4 656 L194.5 659.9 L198.6 656" stroke="#222" stroke-width="1" fill="none"/>
<path d="M190.4 653.8 L194.5 657.7 L198.6 653.8" stroke="#222" stroke-width="1" fill="none"/>
<circle cx="180.4" cy="675.4" r="4.2" stroke="#222" stroke-width="1" fill="none"/>
<path d="M184.8 676 L188.2 674.2 L187.6 677.2 Z" stroke="#000" stroke-width="0.3" fill="#000"/>
<circle cx="180.4" cy="684" r="4.2" stroke="#222" stroke-width="1" fill="none"/>
<path d="M184.8 684.6 L188.2 682.8 L187.6 685.8 Z" stroke="#000" stroke-width="0.3" fill="#000"/>
<line x1="180.4" y1="668.6" x2="180.4" y2="689.8" stroke="#222" stroke-width="1"/>
<circle cx="208.6" cy="675.4" r="4.2" stroke="#222" stroke-width="1" fill="none"/>
<path d="M213 676 L216.4 674.2 L215.8 677.2 Z" stroke="#000" stroke-width="0.3" fill="#000"/>
<circle cx="208.6" cy="684" r="4.2" stroke="#222" stroke-width="1" fill="none"/>
<path d="M213 684.6 L216.4 682.8 L215.8 685.8 Z" stroke="#000" stroke-width="0.3" fill="#000"/>
<line x1="208.6" y1="668.6" x2="208.6" y2="689.8" stroke="#222" stroke-width="1"/>
<line x1="194.5" y1="642.4" x2="194.5" y2="720.2" stroke="#000" stroke-width="1.1"/>
<path d="M192.6 696.4 L196.4 696.4 L194.5 699.7 Z" stroke="#000" stroke-width="0.5" fill="#000"/>
<circle cx="194.6" cy="710.2" r="4.4" stroke="#222" stroke-width="1" fill="none"/>
<line x1="196.4" y1="710.2" x2="196.4" y2="717.6" stroke="#222" stroke-width="1"/>
<line x1="196.4" y1="717.6" x2="201.1" y2="717.6" stroke="#222" stroke-width="1"/>
<line x1="201.1" y1="713.8" x2="201.1" y2="721.8" stroke="#222" stroke-width="1"/>
<line x1="203.4" y1="715.8" x2="203.4" y2="720" stroke="#555" stroke-width="0.8"/>
<circle cx="250" cy="601.3" r="1.75" stroke="#000" stroke-width="0.9" fill="#fff"/>
<line x1="250" y1="603.1" x2="250" y2="629.3" stroke="#000" stroke-width="1.1"/>
<path d="M245.9 620.7 L250 616.8 L254.1 620.7" stroke="#222" stroke-width="1" fill="none"/>
<path d="M245.9 622.9 L250 619 L254.1 622.9" stroke="#222" stroke-width="1" fill="none"/>
<line x1="248.4" y1="626.9" x2="252.2" y2="630.7" stroke="#000" stroke-width="0.9"/>
<line x1="248.4" y1="630.7" x2="252.2" y2="626.9" stroke="#000" stroke-width="0.9"/>
<path d="M241.6 629.5 Q246.8 635.4 250 642.4" stroke="#000" stroke-width="1" fill="none"/>
<path d="M245.9 656 L250 659.9 L254.1 656" stroke="#222" stroke-width="1" fill="none"/>
<path d="M245.9 653.8 L250 657.7 L254.1 653.8" stroke="#222" stroke-width="1" fill="none"/>
<circle cx="235.9" cy="675.4" r="4.2" stroke="#222" stroke-width="1" fill="none"/>
<path d="M240.3 676 L243.7 674.2 L243.1 677.2 Z" stroke="#000" stroke-width="0.3" fill="#000"/>
<circle cx="235.9" cy="684" r="4.2" stroke="#222" stroke-width="1" fill="none"/>
<path d="M240.3 684.6 L243.7 682.8 L243.1 685.8 Z" stroke="#000" stroke-width="0.3" fill="#000"/>
<line x1="235.9" y1="668.6" x2="235.9" y2="689.8" stroke="#222" stroke-width="1"/>
<circle cx="264.1" cy="675.4" r="4.2" stroke="#222" stroke-width="1" fill="none"/>
<path d="M268.5 676 L271.9 674.2 L271.3 677.2 Z" stroke="#000" stroke-width="0.3" fill="#000"/>
<circle cx="264.1" cy="684" r="4.2" stroke="#222" stroke-width="1" fill="none"/>
<path d="M268.5 684.6 L271.9 682.8 L271.3 685.8 Z" stroke="#000" stroke-width="0.3" fill="#000"/>
<line x1="264.1" y1="668.6" x2="264.1" y2="689.8" stroke="#222" stroke-width="1"/>
<line x1="250" y1="642.4" x2="250" y2="720.2" stroke="#000" stroke-width="1.1"/>
<path d="M248.1 696.4 L251.9 696.4 L250 699.7 Z" stroke="#000" stroke-width="0.5" fill="#000"/>
<circle cx="250.1" cy="710.2" r="4.4" stroke="#222" stroke-width="1" fill="none"/>
<line x1="251.9" y1="710.2" x2="251.9" y2="717.6" stroke="#222" stroke-width="1"/>
<line x1="251.9" y1="717.6" x2="256.6" y2="717.6" stroke="#222" stroke-width="1"/>
<line x1="256.6" y1="713.8" x2="256.6" y2="721.8" stroke="#222" stroke-width="1"/>
<line x1="258.9" y1="715.8" x2="258.9" y2="720" stroke="#555" stroke-width="0.8"/>
<circle cx="304.6" cy="601.3" r="1.75" stroke="#000" stroke-width="0.9" fill="#fff"/>
<line x1="304.6" y1="603.1" x2="304.6" y2="629.3" stroke="#000" stroke-width="1.1"/>
<path d="M300.5 620.7 L304.6 616.8 L308.7 620.7" stroke="#222" stroke-width="1" fill="none"/>
<path d="M300.5 622.9 L304.6 619 L308.7 622.9" stroke="#222" stroke-width="1" fill="none"/>
<line x1="303" y1="626.9" x2="306.8" y2="630.7" stroke="#000" stroke-width="0.9"/>
<line x1="303" y1="630.7" x2="306.8" y2="626.9" stroke="#000" stroke-width="0.9"/>
<path d="M296.2 629.5 Q301.4 635.4 304.6 642.4" stroke="#000" stroke-width="1" fill="none"/>
<path d="M300.5 656 L304.6 659.9 L308.7 656" stroke="#222" stroke-width="1" fill="none"/>
<path d="M300.5 653.8 L304.6 657.7 L308.7 653.8" stroke="#222" stroke-width="1" fill="none"/>
<circle cx="290.5" cy="675.4" r="4.2" stroke="#222" stroke-width="1" fill="none"/>
<path d="M294.9 676 L298.3 674.2 L297.7 677.2 Z" stroke="#000" stroke-width="0.3" fill="#000"/>
<circle cx="290.5" cy="684" r="4.2" stroke="#222" stroke-width="1" fill="none"/>
<path d="M294.9 684.6 L298.3 682.8 L297.7 685.8 Z" stroke="#000" stroke-width="0.3" fill="#000"/>
<line x1="290.5" y1="668.6" x2="290.5" y2="689.8" stroke="#222" stroke-width="1"/>
<circle cx="318.7" cy="675.4" r="4.2" stroke="#222" stroke-width="1" fill="none"/>
<path d="M323.1 676 L326.5 674.2 L325.9 677.2 Z" stroke="#000" stroke-width="0.3" fill="#000"/>
<circle cx="318.7" cy="684" r="4.2" stroke="#222" stroke-width="1" fill="none"/>
<path d="M323.1 684.6 L326.5 682.8 L325.9 685.8 Z" stroke="#000" stroke-width="0.3" fill="#000"/>
<line x1="318.7" y1="668.6" x2="318.7" y2="689.8" stroke="#222" stroke-width="1"/>
<line x1="304.6" y1="642.4" x2="304.6" y2="720.2" stroke="#000" stroke-width="1.1"/>
<path d="M302.7 696.4 L306.5 696.4 L304.6 699.7 Z" stroke="#000" stroke-width="0.5" fill="#000"/>
<circle cx="304.7" cy="710.2" r="4.4" stroke="#222" stroke-width="1" fill="none"/>
<line x1="306.5" y1="710.2" x2="306.5" y2="717.6" stroke="#222" stroke-width="1"/>
<line x1="306.5" y1="717.6" x2="311.2" y2="717.6" stroke="#222" stroke-width="1"/>
<line x1="311.2" y1="713.8" x2="311.2" y2="721.8" stroke="#222" stroke-width="1"/>
<line x1="313.5" y1="715.8" x2="313.5" y2="720" stroke="#555" stroke-width="0.8"/>
<circle cx="360" cy="601.3" r="1.75" stroke="#000" stroke-width="0.9" fill="#fff"/>
<line x1="360" y1="603.1" x2="360" y2="629.3" stroke="#000" stroke-width="1.1"/>
<path d="M355.9 620.7 L360 616.8 L364.1 620.7" stroke="#222" stroke-width="1" fill="none"/>
<path d="M355.9 622.9 L360 619 L364.1 622.9" stroke="#222" stroke-width="1" fill="none"/>
<line x1="358.4" y1="626.9" x2="362.2" y2="630.7" stroke="#000" stroke-width="0.9"/>
<line x1="358.4" y1="630.7" x2="362.2" y2="626.9" stroke="#000" stroke-width="0.9"/>
<path d="M351.6 629.5 Q356.8 635.4 360 642.4" stroke="#000" stroke-width="1" fill="none"/>
<path d="M355.9 656 L360 659.9 L364.1 656" stroke="#222" stroke-width="1" fill="none"/>
<path d="M355.9 653.8 L360 657.7 L364.1 653.8" stroke="#222" stroke-width="1" fill="none"/>
<circle cx="345.9" cy="675.4" r="4.2" stroke="#222" stroke-width="1" fill="none"/>
<path d="M350.3 676 L353.7 674.2 L353.1 677.2 Z" stroke="#000" stroke-width="0.3" fill="#000"/>
<circle cx="345.9" cy="684" r="4.2" stroke="#222" stroke-width="1" fill="none"/>
<path d="M350.3 684.6 L353.7 682.8 L353.1 685.8 Z" stroke="#000" stroke-width="0.3" fill="#000"/>
<line x1="345.9" y1="668.6" x2="345.9" y2="689.8" stroke="#222" stroke-width="1"/>
<circle cx="374.1" cy="675.4" r="4.2" stroke="#222" stroke-width="1" fill="none"/>
<path d="M378.5 676 L381.9 674.2 L381.3 677.2 Z" stroke="#000" stroke-width="0.3" fill="#000"/>
<circle cx="374.1" cy="684" r="4.2" stroke="#222" stroke-width="1" fill="none"/>
<path d="M378.5 684.6 L381.9 682.8 L381.3 685.8 Z" stroke="#000" stroke-width="0.3" fill="#000"/>
<line x1="374.1" y1="668.6" x2="374.1" y2="689.8" stroke="#222" stroke-width="1"/>
<line x1="360" y1="642.4" x2="360" y2="720.2" stroke="#000" stroke-width="1.1"/>
<path d="M358.1 696.4 L361.9 696.4 L360 699.7 Z" stroke="#000" stroke-width="0.5" fill="#000"/>
<circle cx="360.1" cy="710.2" r="4.4" stroke="#222" stroke-width="1" fill="none"/>
<line x1="361.9" y1="710.2" x2="361.9" y2="717.6" stroke="#222" stroke-width="1"/>
<line x1="361.9" y1="717.6" x2="366.6" y2="717.6" stroke="#222" stroke-width="1"/>
<line x1="366.6" y1="713.8" x2="366.6" y2="721.8" stroke="#222" stroke-width="1"/>
<line x1="368.9" y1="715.8" x2="368.9" y2="720" stroke="#555" stroke-width="0.8"/>
<circle cx="414.9" cy="601.3" r="1.75" stroke="#000" stroke-width="0.9" fill="#fff"/>
<line x1="414.9" y1="603.1" x2="414.9" y2="629.3" stroke="#000" stroke-width="1.1"/>
<path d="M410.8 620.7 L414.9 616.8 L419 620.7" stroke="#222" stroke-width="1" fill="none"/>
<path d="M410.8 622.9 L414.9 619 L419 622.9" stroke="#222" stroke-width="1" fill="none"/>
<line x1="413.3" y1="626.9" x2="417.1" y2="630.7" stroke="#000" stroke-width="0.9"/>
<line x1="413.3" y1="630.7" x2="417.1" y2="626.9" stroke="#000" stroke-width="0.9"/>
<path d="M406.5 629.5 Q411.7 635.4 414.9 642.4" stroke="#000" stroke-width="1" fill="none"/>
<path d="M410.8 656 L414.9 659.9 L419 656" stroke="#222" stroke-width="1" fill="none"/>
<path d="M410.8 653.8 L414.9 657.7 L419 653.8" stroke="#222" stroke-width="1" fill="none"/>
<circle cx="400.8" cy="675.4" r="4.2" stroke="#222" stroke-width="1" fill="none"/>
<path d="M405.2 676 L408.6 674.2 L408 677.2 Z" stroke="#000" stroke-width="0.3" fill="#000"/>
<circle cx="400.8" cy="684" r="4.2" stroke="#222" stroke-width="1" fill="none"/>
<path d="M405.2 684.6 L408.6 682.8 L408 685.8 Z" stroke="#000" stroke-width="0.3" fill="#000"/>
<line x1="400.8" y1="668.6" x2="400.8" y2="689.8" stroke="#222" stroke-width="1"/>
<circle cx="429" cy="675.4" r="4.2" stroke="#222" stroke-width="1" fill="none"/>
<path d="M433.4 676 L436.8 674.2 L436.2 677.2 Z" stroke="#000" stroke-width="0.3" fill="#000"/>
<circle cx="429" cy="684" r="4.2" stroke="#222" stroke-width="1" fill="none"/>
<path d="M433.4 684.6 L436.8 682.8 L436.2 685.8 Z" stroke="#000" stroke-width="0.3" fill="#000"/>
<line x1="429" y1="668.6" x2="429" y2="689.8" stroke="#222" stroke-width="1"/>
<line x1="414.9" y1="642.4" x2="414.9" y2="720.2" stroke="#000" stroke-width="1.1"/>
<path d="M413 696.4 L416.8 696.4 L414.9 699.7 Z" stroke="#000" stroke-width="0.5" fill="#000"/>
<circle cx="415" cy="710.2" r="4.4" stroke="#222" stroke-width="1" fill="none"/>
<line x1="416.8" y1="710.2" x2="416.8" y2="717.6" stroke="#222" stroke-width="1"/>
<line x1="416.8" y1="717.6" x2="421.5" y2="717.6" stroke="#222" stroke-width="1"/>
<line x1="421.5" y1="713.8" x2="421.5" y2="721.8" stroke="#222" stroke-width="1"/>
<line x1="423.8" y1="715.8" x2="423.8" y2="720" stroke="#555" stroke-width="0.8"/>
<circle cx="470.2" cy="601.3" r="1.75" stroke="#000" stroke-width="0.9" fill="#fff"/>
<line x1="470.2" y1="603.1" x2="470.2" y2="629.3" stroke="#000" stroke-width="1.1"/>
<path d="M466.1 620.7 L470.2 616.8 L474.3 620.7" stroke="#222" stroke-width="1" fill="none"/>
<path d="M466.1 622.9 L470.2 619 L474.3 622.9" stroke="#222" stroke-width="1" fill="none"/>
<line x1="468.6" y1="626.9" x2="472.4" y2="630.7" stroke="#000" stroke-width="0.9"/>
<line x1="468.6" y1="630.7" x2="472.4" y2="626.9" stroke="#000" stroke-width="0.9"/>
<path d="M461.8 629.5 Q467 635.4 470.2 642.4" stroke="#000" stroke-width="1" fill="none"/>
<path d="M466.1 656 L470.2 659.9 L474.3 656" stroke="#222" stroke-width="1" fill="none"/>
<path d="M466.1 653.8 L470.2 657.7 L474.3 653.8" stroke="#222" stroke-width="1" fill="none"/>
<circle cx="456.1" cy="675.4" r="4.2" stroke="#222" stroke-width="1" fill="none"/>
<path d="M460.5 676 L463.9 674.2 L463.3 677.2 Z" stroke="#000" stroke-width="0.3" fill="#000"/>
<circle cx="456.1" cy="684" r="4.2" stroke="#222" stroke-width="1" fill="none"/>
<path d="M460.5 684.6 L463.9 682.8 L463.3 685.8 Z" stroke="#000" stroke-width="0.3" fill="#000"/>
<line x1="456.1" y1="668.6" x2="456.1" y2="689.8" stroke="#222" stroke-width="1"/>
<circle cx="484.3" cy="675.4" r="4.2" stroke="#222" stroke-width="1" fill="none"/>
<path d="M488.7 676 L492.1 674.2 L491.5 677.2 Z" stroke="#000" stroke-width="0.3" fill="#000"/>
<circle cx="484.3" cy="684" r="4.2" stroke="#222" stroke-width="1" fill="none"/>
<path d="M488.7 684.6 L492.1 682.8 L491.5 685.8 Z" stroke="#000" stroke-width="0.3" fill="#000"/>
<line x1="484.3" y1="668.6" x2="484.3" y2="689.8" stroke="#222" stroke-width="1"/>
<line x1="470.2" y1="642.4" x2="470.2" y2="720.2" stroke="#000" stroke-width="1.1"/>
<path d="M468.3 696.4 L472.1 696.4 L470.2 699.7 Z" stroke="#000" stroke-width="0.5" fill="#000"/>
<circle cx="470.3" cy="710.2" r="4.4" stroke="#222" stroke-width="1" fill="none"/>
<line x1="472.1" y1="710.2" x2="472.1" y2="717.6" stroke="#222" stroke-width="1"/>
<line x1="472.1" y1="717.6" x2="476.8" y2="717.6" stroke="#222" stroke-width="1"/>
<line x1="476.8" y1="713.8" x2="476.8" y2="721.8" stroke="#222" stroke-width="1"/>
<line x1="479.1" y1="715.8" x2="479.1" y2="720" stroke="#555" stroke-width="0.8"/>
<circle cx="525.2" cy="601.3" r="1.75" stroke="#000" stroke-width="0.9" fill="#fff"/>
<line x1="525.2" y1="603.1" x2="525.2" y2="629.3" stroke="#000" stroke-width="1.1"/>
<path d="M521.1 620.7 L525.2 616.8 L529.3 620.7" stroke="#222" stroke-width="1" fill="none"/>
<path d="M521.1 622.9 L525.2 619 L529.3 622.9" stroke="#222" stroke-width="1" fill="none"/>
<line x1="523.6" y1="626.9" x2="527.4" y2="630.7" stroke="#000" stroke-width="0.9"/>
<line x1="523.6" y1="630.7" x2="527.4" y2="626.9" stroke="#000" stroke-width="0.9"/>
<path d="M516.8 629.5 Q522 635.4 525.2 642.4" stroke="#000" stroke-width="1" fill="none"/>
<path d="M521.1 656 L525.2 659.9 L529.3 656" stroke="#222" stroke-width="1" fill="none"/>
<path d="M521.1 653.8 L525.2 657.7 L529.3 653.8" stroke="#222" stroke-width="1" fill="none"/>
<circle cx="511.1" cy="675.4" r="4.2" stroke="#222" stroke-width="1" fill="none"/>
<path d="M515.5 676 L518.9 674.2 L518.3 677.2 Z" stroke="#000" stroke-width="0.3" fill="#000"/>
<circle cx="511.1" cy="684" r="4.2" stroke="#222" stroke-width="1" fill="none"/>
<path d="M515.5 684.6 L518.9 682.8 L518.3 685.8 Z" stroke="#000" stroke-width="0.3" fill="#000"/>
<line x1="511.1" y1="668.6" x2="511.1" y2="689.8" stroke="#222" stroke-width="1"/>
<circle cx="539.3" cy="675.4" r="4.2" stroke="#222" stroke-width="1" fill="none"/>
<path d="M543.7 676 L547.1 674.2 L546.5 677.2 Z" stroke="#000" stroke-width="0.3" fill="#000"/>
<circle cx="539.3" cy="684" r="4.2" stroke="#222" stroke-width="1" fill="none"/>
<path d="M543.7 684.6 L547.1 682.8 L546.5 685.8 Z" stroke="#000" stroke-width="0.3" fill="#000"/>
<line x1="539.3" y1="668.6" x2="539.3" y2="689.8" stroke="#222" stroke-width="1"/>
<line x1="525.2" y1="642.4" x2="525.2" y2="720.2" stroke="#000" stroke-width="1.1"/>
<path d="M523.3 696.4 L527.1 696.4 L525.2 699.7 Z" stroke="#000" stroke-width="0.5" fill="#000"/>
<circle cx="525.3" cy="710.2" r="4.4" stroke="#222" stroke-width="1" fill="none"/>
<line x1="527.1" y1="710.2" x2="527.1" y2="717.6" stroke="#222" stroke-width="1"/>
<line x1="527.1" y1="717.6" x2="531.8" y2="717.6" stroke="#222" stroke-width="1"/>
<line x1="531.8" y1="713.8" x2="531.8" y2="721.8" stroke="#222" stroke-width="1"/>
<line x1="534.1" y1="715.8" x2="534.1" y2="720" stroke="#555" stroke-width="0.8"/>
<circle cx="580.3" cy="601.3" r="1.75" stroke="#000" stroke-width="0.9" fill="#fff"/>
<line x1="580.3" y1="603.1" x2="580.3" y2="629.3" stroke="#000" stroke-width="1.1"/>
<path d="M576.2 620.7 L580.3 616.8 L584.4 620.7" stroke="#222" stroke-width="1" fill="none"/>
<path d="M576.2 622.9 L580.3 619 L584.4 622.9" stroke="#222" stroke-width="1" fill="none"/>
<line x1="578.7" y1="626.9" x2="582.5" y2="630.7" stroke="#000" stroke-width="0.9"/>
<line x1="578.7" y1="630.7" x2="582.5" y2="626.9" stroke="#000" stroke-width="0.9"/>
<path d="M571.9 629.5 Q577.1 635.4 580.3 642.4" stroke="#000" stroke-width="1" fill="none"/>
<path d="M576.2 656 L580.3 659.9 L584.4 656" stroke="#222" stroke-width="1" fill="none"/>
<path d="M576.2 653.8 L580.3 657.7 L584.4 653.8" stroke="#222" stroke-width="1" fill="none"/>
<circle cx="566.2" cy="675.4" r="4.2" stroke="#222" stroke-width="1" fill="none"/>
<path d="M570.6 676 L574 674.2 L573.4 677.2 Z" stroke="#000" stroke-width="0.3" fill="#000"/>
<circle cx="566.2" cy="684" r="4.2" stroke="#222" stroke-width="1" fill="none"/>
<path d="M570.6 684.6 L574 682.8 L573.4 685.8 Z" stroke="#000" stroke-width="0.3" fill="#000"/>
<line x1="566.2" y1="668.6" x2="566.2" y2="689.8" stroke="#222" stroke-width="1"/>
<circle cx="594.4" cy="675.4" r="4.2" stroke="#222" stroke-width="1" fill="none"/>
<path d="M598.8 676 L602.2 674.2 L601.6 677.2 Z" stroke="#000" stroke-width="0.3" fill="#000"/>
<circle cx="594.4" cy="684" r="4.2" stroke="#222" stroke-width="1" fill="none"/>
<path d="M598.8 684.6 L602.2 682.8 L601.6 685.8 Z" stroke="#000" stroke-width="0.3" fill="#000"/>
<line x1="594.4" y1="668.6" x2="594.4" y2="689.8" stroke="#222" stroke-width="1"/>
<line x1="580.3" y1="642.4" x2="580.3" y2="720.2" stroke="#000" stroke-width="1.1"/>
<path d="M578.4 696.4 L582.2 696.4 L580.3 699.7 Z" stroke="#000" stroke-width="0.5" fill="#000"/>
<circle cx="580.4" cy="710.2" r="4.4" stroke="#222" stroke-width="1" fill="none"/>
<line x1="582.2" y1="710.2" x2="582.2" y2="717.6" stroke="#222" stroke-width="1"/>
<line x1="582.2" y1="717.6" x2="586.9" y2="717.6" stroke="#222" stroke-width="1"/>
<line x1="586.9" y1="713.8" x2="586.9" y2="721.8" stroke="#222" stroke-width="1"/>
<line x1="589.2" y1="715.8" x2="589.2" y2="720" stroke="#555" stroke-width="0.8"/>
<circle cx="635" cy="601.3" r="1.75" stroke="#000" stroke-width="0.9" fill="#fff"/>
<line x1="635" y1="603.1" x2="635" y2="629.3" stroke="#000" stroke-width="1.1"/>
<path d="M630.9 620.7 L635 616.8 L639.1 620.7" stroke="#222" stroke-width="1" fill="none"/>
<path d="M630.9 622.9 L635 619 L639.1 622.9" stroke="#222" stroke-width="1" fill="none"/>
<line x1="633.4" y1="626.9" x2="637.2" y2="630.7" stroke="#000" stroke-width="0.9"/>
<line x1="633.4" y1="630.7" x2="637.2" y2="626.9" stroke="#000" stroke-width="0.9"/>
<path d="M626.6 629.5 Q631.8 635.4 635 642.4" stroke="#000" stroke-width="1" fill="none"/>
<path d="M630.9 656 L635 659.9 L639.1 656" stroke="#222" stroke-width="1" fill="none"/>
<path d="M630.9 653.8 L635 657.7 L639.1 653.8" stroke="#222" stroke-width="1" fill="none"/>
<circle cx="620.9" cy="675.4" r="4.2" stroke="#222" stroke-width="1" fill="none"/>
<path d="M625.3 676 L628.7 674.2 L628.1 677.2 Z" stroke="#000" stroke-width="0.3" fill="#000"/>
<circle cx="620.9" cy="684" r="4.2" stroke="#222" stroke-width="1" fill="none"/>
<path d="M625.3 684.6 L628.7 682.8 L628.1 685.8 Z" stroke="#000" stroke-width="0.3" fill="#000"/>
<line x1="620.9" y1="668.6" x2="620.9" y2="689.8" stroke="#222" stroke-width="1"/>
<circle cx="649.1" cy="675.4" r="4.2" stroke="#222" stroke-width="1" fill="none"/>
<path d="M653.5 676 L656.9 674.2 L656.3 677.2 Z" stroke="#000" stroke-width="0.3" fill="#000"/>
<circle cx="649.1" cy="684" r="4.2" stroke="#222" stroke-width="1" fill="none"/>
<path d="M653.5 684.6 L656.9 682.8 L656.3 685.8 Z" stroke="#000" stroke-width="0.3" fill="#000"/>
<line x1="649.1" y1="668.6" x2="649.1" y2="689.8" stroke="#222" stroke-width="1"/>
<line x1="635" y1="642.4" x2="635" y2="720.2" stroke="#000" stroke-width="1.1"/>
<path d="M633.1 696.4 L636.9 696.4 L635 699.7 Z" stroke="#000" stroke-width="0.5" fill="#000"/>
<circle cx="635.1" cy="710.2" r="4.4" stroke="#222" stroke-width="1" fill="none"/>
<line x1="636.9" y1="710.2" x2="636.9" y2="717.6" stroke="#222" stroke-width="1"/>
<line x1="636.9" y1="717.6" x2="641.6" y2="717.6" stroke="#222" stroke-width="1"/>
<line x1="641.6" y1="713.8" x2="641.6" y2="721.8" stroke="#222" stroke-width="1"/>
<line x1="643.9" y1="715.8" x2="643.9" y2="720" stroke="#555" stroke-width="0.8"/>
<circle cx="690.5" cy="601.3" r="1.75" stroke="#000" stroke-width="0.9" fill="#fff"/>
<line x1="690.5" y1="603.1" x2="690.5" y2="629.3" stroke="#000" stroke-width="1.1"/>
<path d="M686.4 620.7 L690.5 616.8 L694.6 620.7" stroke="#222" stroke-width="1" fill="none"/>
<path d="M686.4 622.9 L690.5 619 L694.6 622.9" stroke="#222" stroke-width="1" fill="none"/>
<line x1="688.9" y1="626.9" x2="692.7" y2="630.7" stroke="#000" stroke-width="0.9"/>
<line x1="688.9" y1="630.7" x2="692.7" y2="626.9" stroke="#000" stroke-width="0.9"/>
<path d="M682.1 629.5 Q687.3 635.4 690.5 642.4" stroke="#000" stroke-width="1" fill="none"/>
<path d="M686.4 656 L690.5 659.9 L694.6 656" stroke="#222" stroke-width="1" fill="none"/>
<path d="M686.4 653.8 L690.5 657.7 L694.6 653.8" stroke="#222" stroke-width="1" fill="none"/>
<circle cx="676.4" cy="675.4" r="4.2" stroke="#222" stroke-width="1" fill="none"/>
<path d="M680.8 676 L684.2 674.2 L683.6 677.2 Z" stroke="#000" stroke-width="0.3" fill="#000"/>
<circle cx="676.4" cy="684" r="4.2" stroke="#222" stroke-width="1" fill="none"/>
<path d="M680.8 684.6 L684.2 682.8 L683.6 685.8 Z" stroke="#000" stroke-width="0.3" fill="#000"/>
<line x1="676.4" y1="668.6" x2="676.4" y2="689.8" stroke="#222" stroke-width="1"/>
<circle cx="704.6" cy="675.4" r="4.2" stroke="#222" stroke-width="1" fill="none"/>
<path d="M709 676 L712.4 674.2 L711.8 677.2 Z" stroke="#000" stroke-width="0.3" fill="#000"/>
<circle cx="704.6" cy="684" r="4.2" stroke="#222" stroke-width="1" fill="none"/>
<path d="M709 684.6 L712.4 682.8 L711.8 685.8 Z" stroke="#000" stroke-width="0.3" fill="#000"/>
<line x1="704.6" y1="668.6" x2="704.6" y2="689.8" stroke="#222" stroke-width="1"/>
<line x1="690.5" y1="642.4" x2="690.5" y2="720.2" stroke="#000" stroke-width="1.1"/>
<path d="M688.6 696.4 L692.4 696.4 L690.5 699.7 Z" stroke="#000" stroke-width="0.5" fill="#000"/>
<circle cx="690.6" cy="710.2" r="4.4" stroke="#222" stroke-width="1" fill="none"/>
<line x1="692.4" y1="710.2" x2="692.4" y2="717.6" stroke="#222" stroke-width="1"/>
<line x1="692.4" y1="717.6" x2="697.1" y2="717.6" stroke="#222" stroke-width="1"/>
<line x1="697.1" y1="713.8" x2="697.1" y2="721.8" stroke="#222" stroke-width="1"/>
<line x1="699.4" y1="715.8" x2="699.4" y2="720" stroke="#555" stroke-width="0.8"/>
<circle cx="800.3" cy="601.3" r="1.75" stroke="#000" stroke-width="0.9" fill="#fff"/>
<line x1="800.3" y1="603.1" x2="800.3" y2="629.3" stroke="#000" stroke-width="1.1"/>
<path d="M796.2 620.7 L800.3 616.8 L804.4 620.7" stroke="#222" stroke-width="1" fill="none"/>
<path d="M796.2 622.9 L800.3 619 L804.4 622.9" stroke="#222" stroke-width="1" fill="none"/>
<line x1="798.7" y1="626.9" x2="802.5" y2="630.7" stroke="#000" stroke-width="0.9"/>
<line x1="798.7" y1="630.7" x2="802.5" y2="626.9" stroke="#000" stroke-width="0.9"/>
<path d="M791.9 629.5 Q797.1 635.4 800.3 642.4" stroke="#000" stroke-width="1" fill="none"/>
<path d="M796.2 656 L800.3 659.9 L804.4 656" stroke="#222" stroke-width="1" fill="none"/>
<path d="M796.2 653.8 L800.3 657.7 L804.4 653.8" stroke="#222" stroke-width="1" fill="none"/>
<circle cx="786.2" cy="675.4" r="4.2" stroke="#222" stroke-width="1" fill="none"/>
<path d="M790.6 676 L794 674.2 L793.4 677.2 Z" stroke="#000" stroke-width="0.3" fill="#000"/>
<circle cx="786.2" cy="684" r="4.2" stroke="#222" stroke-width="1" fill="none"/>
<path d="M790.6 684.6 L794 682.8 L793.4 685.8 Z" stroke="#000" stroke-width="0.3" fill="#000"/>
<line x1="786.2" y1="668.6" x2="786.2" y2="689.8" stroke="#222" stroke-width="1"/>
<circle cx="814.4" cy="675.4" r="4.2" stroke="#222" stroke-width="1" fill="none"/>
<path d="M818.8 676 L822.2 674.2 L821.6 677.2 Z" stroke="#000" stroke-width="0.3" fill="#000"/>
<circle cx="814.4" cy="684" r="4.2" stroke="#222" stroke-width="1" fill="none"/>
<path d="M818.8 684.6 L822.2 682.8 L821.6 685.8 Z" stroke="#000" stroke-width="0.3" fill="#000"/>
<line x1="814.4" y1="668.6" x2="814.4" y2="689.8" stroke="#222" stroke-width="1"/>
<line x1="800.3" y1="642.4" x2="800.3" y2="720.2" stroke="#000" stroke-width="1.1"/>
<path d="M798.4 696.4 L802.2 696.4 L800.3 699.7 Z" stroke="#000" stroke-width="0.5" fill="#000"/>
<circle cx="800.4" cy="710.2" r="4.4" stroke="#222" stroke-width="1" fill="none"/>
<line x1="802.2" y1="710.2" x2="802.2" y2="717.6" stroke="#222" stroke-width="1"/>
<line x1="802.2" y1="717.6" x2="806.9" y2="717.6" stroke="#222" stroke-width="1"/>
<line x1="806.9" y1="713.8" x2="806.9" y2="721.8" stroke="#222" stroke-width="1"/>
<line x1="809.2" y1="715.8" x2="809.2" y2="720" stroke="#555" stroke-width="0.8"/>
<circle cx="855.1" cy="601.3" r="1.75" stroke="#000" stroke-width="0.9" fill="#fff"/>
<line x1="855.1" y1="603.1" x2="855.1" y2="629.3" stroke="#000" stroke-width="1.1"/>
<path d="M851 620.7 L855.1 616.8 L859.2 620.7" stroke="#222" stroke-width="1" fill="none"/>
<path d="M851 622.9 L855.1 619 L859.2 622.9" stroke="#222" stroke-width="1" fill="none"/>
<line x1="853.5" y1="626.9" x2="857.3" y2="630.7" stroke="#000" stroke-width="0.9"/>
<line x1="853.5" y1="630.7" x2="857.3" y2="626.9" stroke="#000" stroke-width="0.9"/>
<path d="M846.7 629.5 Q851.9 635.4 855.1 642.4" stroke="#000" stroke-width="1" fill="none"/>
<path d="M851 656 L855.1 659.9 L859.2 656" stroke="#222" stroke-width="1" fill="none"/>
<path d="M851 653.8 L855.1 657.7 L859.2 653.8" stroke="#222" stroke-width="1" fill="none"/>
<circle cx="841" cy="675.4" r="4.2" stroke="#222" stroke-width="1" fill="none"/>
<path d="M845.4 676 L848.8 674.2 L848.2 677.2 Z" stroke="#000" stroke-width="0.3" fill="#000"/>
<circle cx="841" cy="684" r="4.2" stroke="#222" stroke-width="1" fill="none"/>
<path d="M845.4 684.6 L848.8 682.8 L848.2 685.8 Z" stroke="#000" stroke-width="0.3" fill="#000"/>
<line x1="841" y1="668.6" x2="841" y2="689.8" stroke="#222" stroke-width="1"/>
<circle cx="869.2" cy="675.4" r="4.2" stroke="#222" stroke-width="1" fill="none"/>
<path d="M873.6 676 L877 674.2 L876.4 677.2 Z" stroke="#000" stroke-width="0.3" fill="#000"/>
<circle cx="869.2" cy="684" r="4.2" stroke="#222" stroke-width="1" fill="none"/>
<path d="M873.6 684.6 L877 682.8 L876.4 685.8 Z" stroke="#000" stroke-width="0.3" fill="#000"/>
<line x1="869.2" y1="668.6" x2="869.2" y2="689.8" stroke="#222" stroke-width="1"/>
<line x1="855.1" y1="642.4" x2="855.1" y2="720.2" stroke="#000" stroke-width="1.1"/>
<path d="M853.2 696.4 L857 696.4 L855.1 699.7 Z" stroke="#000" stroke-width="0.5" fill="#000"/>
<circle cx="855.2" cy="710.2" r="4.4" stroke="#222" stroke-width="1" fill="none"/>
<line x1="857" y1="710.2" x2="857" y2="717.6" stroke="#222" stroke-width="1"/>
<line x1="857" y1="717.6" x2="861.7" y2="717.6" stroke="#222" stroke-width="1"/>
<line x1="861.7" y1="713.8" x2="861.7" y2="721.8" stroke="#222" stroke-width="1"/>
<line x1="864" y1="715.8" x2="864" y2="720" stroke="#555" stroke-width="0.8"/>
<circle cx="910.5" cy="601.3" r="1.75" stroke="#000" stroke-width="0.9" fill="#fff"/>
<line x1="910.5" y1="603.1" x2="910.5" y2="629.3" stroke="#000" stroke-width="1.1"/>
<path d="M906.4 620.7 L910.5 616.8 L914.6 620.7" stroke="#222" stroke-width="1" fill="none"/>
<path d="M906.4 622.9 L910.5 619 L914.6 622.9" stroke="#222" stroke-width="1" fill="none"/>
<line x1="908.9" y1="626.9" x2="912.7" y2="630.7" stroke="#000" stroke-width="0.9"/>
<line x1="908.9" y1="630.7" x2="912.7" y2="626.9" stroke="#000" stroke-width="0.9"/>
<path d="M902.1 629.5 Q907.3 635.4 910.5 642.4" stroke="#000" stroke-width="1" fill="none"/>
<path d="M906.4 656 L910.5 659.9 L914.6 656" stroke="#222" stroke-width="1" fill="none"/>
<path d="M906.4 653.8 L910.5 657.7 L914.6 653.8" stroke="#222" stroke-width="1" fill="none"/>
<circle cx="896.4" cy="675.4" r="4.2" stroke="#222" stroke-width="1" fill="none"/>
<path d="M900.8 676 L904.2 674.2 L903.6 677.2 Z" stroke="#000" stroke-width="0.3" fill="#000"/>
<circle cx="896.4" cy="684" r="4.2" stroke="#222" stroke-width="1" fill="none"/>
<path d="M900.8 684.6 L904.2 682.8 L903.6 685.8 Z" stroke="#000" stroke-width="0.3" fill="#000"/>
<line x1="896.4" y1="668.6" x2="896.4" y2="689.8" stroke="#222" stroke-width="1"/>
<circle cx="924.6" cy="675.4" r="4.2" stroke="#222" stroke-width="1" fill="none"/>
<path d="M929 676 L932.4 674.2 L931.8 677.2 Z" stroke="#000" stroke-width="0.3" fill="#000"/>
<circle cx="924.6" cy="684" r="4.2" stroke="#222" stroke-width="1" fill="none"/>
<path d="M929 684.6 L932.4 682.8 L931.8 685.8 Z" stroke="#000" stroke-width="0.3" fill="#000"/>
<line x1="924.6" y1="668.6" x2="924.6" y2="689.8" stroke="#222" stroke-width="1"/>
<line x1="910.5" y1="642.4" x2="910.5" y2="720.2" stroke="#000" stroke-width="1.1"/>
<path d="M908.6 696.4 L912.4 696.4 L910.5 699.7 Z" stroke="#000" stroke-width="0.5" fill="#000"/>
<circle cx="910.6" cy="710.2" r="4.4" stroke="#222" stroke-width="1" fill="none"/>
<line x1="912.4" y1="710.2" x2="912.4" y2="717.6" stroke="#222" stroke-width="1"/>
<line x1="912.4" y1="717.6" x2="917.1" y2="717.6" stroke="#222" stroke-width="1"/>
<line x1="917.1" y1="713.8" x2="917.1" y2="721.8" stroke="#222" stroke-width="1"/>
<line x1="919.4" y1="715.8" x2="919.4" y2="720" stroke="#555" stroke-width="0.8"/>
<circle cx="965.7" cy="601.3" r="1.75" stroke="#000" stroke-width="0.9" fill="#fff"/>
<line x1="965.7" y1="603.1" x2="965.7" y2="629.3" stroke="#000" stroke-width="1.1"/>
<path d="M961.6 620.7 L965.7 616.8 L969.8 620.7" stroke="#222" stroke-width="1" fill="none"/>
<path d="M961.6 622.9 L965.7 619 L969.8 622.9" stroke="#222" stroke-width="1" fill="none"/>
<line x1="964.1" y1="626.9" x2="967.9" y2="630.7" stroke="#000" stroke-width="0.9"/>
<line x1="964.1" y1="630.7" x2="967.9" y2="626.9" stroke="#000" stroke-width="0.9"/>
<path d="M957.3 629.5 Q962.5 635.4 965.7 642.4" stroke="#000" stroke-width="1" fill="none"/>
<path d="M961.6 656 L965.7 659.9 L969.8 656" stroke="#222" stroke-width="1" fill="none"/>
<path d="M961.6 653.8 L965.7 657.7 L969.8 653.8" stroke="#222" stroke-width="1" fill="none"/>
<circle cx="951.6" cy="675.4" r="4.2" stroke="#222" stroke-width="1" fill="none"/>
<path d="M956 676 L959.4 674.2 L958.8 677.2 Z" stroke="#000" stroke-width="0.3" fill="#000"/>
<circle cx="951.6" cy="684" r="4.2" stroke="#222" stroke-width="1" fill="none"/>
<path d="M956 684.6 L959.4 682.8 L958.8 685.8 Z" stroke="#000" stroke-width="0.3" fill="#000"/>
<line x1="951.6" y1="668.6" x2="951.6" y2="689.8" stroke="#222" stroke-width="1"/>
<circle cx="979.8" cy="675.4" r="4.2" stroke="#222" stroke-width="1" fill="none"/>
<path d="M984.2 676 L987.6 674.2 L987 677.2 Z" stroke="#000" stroke-width="0.3" fill="#000"/>
<circle cx="979.8" cy="684" r="4.2" stroke="#222" stroke-width="1" fill="none"/>
<path d="M984.2 684.6 L987.6 682.8 L987 685.8 Z" stroke="#000" stroke-width="0.3" fill="#000"/>
<line x1="979.8" y1="668.6" x2="979.8" y2="689.8" stroke="#222" stroke-width="1"/>
<line x1="965.7" y1="642.4" x2="965.7" y2="720.2" stroke="#000" stroke-width="1.1"/>
<path d="M963.8 696.4 L967.6 696.4 L965.7 699.7 Z" stroke="#000" stroke-width="0.5" fill="#000"/>
<circle cx="965.8" cy="710.2" r="4.4" stroke="#222" stroke-width="1" fill="none"/>
<line x1="967.6" y1="710.2" x2="967.6" y2="717.6" stroke="#222" stroke-width="1"/>
<line x1="967.6" y1="717.6" x2="972.3" y2="717.6" stroke="#222" stroke-width="1"/>
<line x1="972.3" y1="713.8" x2="972.3" y2="721.8" stroke="#222" stroke-width="1"/>
<line x1="974.6" y1="715.8" x2="974.6" y2="720" stroke="#555" stroke-width="0.8"/>
<circle cx="1021" cy="601.3" r="1.75" stroke="#000" stroke-width="0.9" fill="#fff"/>
<line x1="1021" y1="603.1" x2="1021" y2="629.3" stroke="#000" stroke-width="1.1"/>
<path d="M1016.9 620.7 L1021 616.8 L1025.1 620.7" stroke="#222" stroke-width="1" fill="none"/>
<path d="M1016.9 622.9 L1021 619 L1025.1 622.9" stroke="#222" stroke-width="1" fill="none"/>
<line x1="1019.4" y1="626.9" x2="1023.2" y2="630.7" stroke="#000" stroke-width="0.9"/>
<line x1="1019.4" y1="630.7" x2="1023.2" y2="626.9" stroke="#000" stroke-width="0.9"/>
<path d="M1012.6 629.5 Q1017.8 635.4 1021 642.4" stroke="#000" stroke-width="1" fill="none"/>
<path d="M1016.9 656 L1021 659.9 L1025.1 656" stroke="#222" stroke-width="1" fill="none"/>
<path d="M1016.9 653.8 L1021 657.7 L1025.1 653.8" stroke="#222" stroke-width="1" fill="none"/>
<circle cx="1006.9" cy="675.4" r="4.2" stroke="#222" stroke-width="1" fill="none"/>
<path d="M1011.3 676 L1014.7 674.2 L1014.1 677.2 Z" stroke="#000" stroke-width="0.3" fill="#000"/>
<circle cx="1006.9" cy="684" r="4.2" stroke="#222" stroke-width="1" fill="none"/>
<path d="M1011.3 684.6 L1014.7 682.8 L1014.1 685.8 Z" stroke="#000" stroke-width="0.3" fill="#000"/>
<line x1="1006.9" y1="668.6" x2="1006.9" y2="689.8" stroke="#222" stroke-width="1"/>
<circle cx="1035.1" cy="675.4" r="4.2" stroke="#222" stroke-width="1" fill="none"/>
<path d="M1039.5 676 L1042.9 674.2 L1042.3 677.2 Z" stroke="#000" stroke-width="0.3" fill="#000"/>
<circle cx="1035.1" cy="684" r="4.2" stroke="#222" stroke-width="1" fill="none"/>
<path d="M1039.5 684.6 L1042.9 682.8 L1042.3 685.8 Z" stroke="#000" stroke-width="0.3" fill="#000"/>
<line x1="1035.1" y1="668.6" x2="1035.1" y2="689.8" stroke="#222" stroke-width="1"/>
<line x1="1021" y1="642.4" x2="1021" y2="720.2" stroke="#000" stroke-width="1.1"/>
<path d="M1019.1 696.4 L1022.9 696.4 L1021 699.7 Z" stroke="#000" stroke-width="0.5" fill="#000"/>
<circle cx="1021.1" cy="710.2" r="4.4" stroke="#222" stroke-width="1" fill="none"/>
<line x1="1022.9" y1="710.2" x2="1022.9" y2="717.6" stroke="#222" stroke-width="1"/>
<line x1="1022.9" y1="717.6" x2="1027.6" y2="717.6" stroke="#222" stroke-width="1"/>
<line x1="1027.6" y1="713.8" x2="1027.6" y2="721.8" stroke="#222" stroke-width="1"/>
<line x1="1029.9" y1="715.8" x2="1029.9" y2="720" stroke="#555" stroke-width="0.8"/>
<circle cx="1078.3" cy="601.3" r="1.75" stroke="#000" stroke-width="0.9" fill="#fff"/>
<line x1="1078.3" y1="603.1" x2="1078.3" y2="629.3" stroke="#000" stroke-width="1.1"/>
<path d="M1074.2 620.7 L1078.3 616.8 L1082.4 620.7" stroke="#222" stroke-width="1" fill="none"/>
<path d="M1074.2 622.9 L1078.3 619 L1082.4 622.9" stroke="#222" stroke-width="1" fill="none"/>
<line x1="1076.7" y1="626.9" x2="1080.5" y2="630.7" stroke="#000" stroke-width="0.9"/>
<line x1="1076.7" y1="630.7" x2="1080.5" y2="626.9" stroke="#000" stroke-width="0.9"/>
<path d="M1069.9 629.5 Q1075.1 635.4 1078.3 642.4" stroke="#000" stroke-width="1" fill="none"/>
<path d="M1074.2 656 L1078.3 659.9 L1082.4 656" stroke="#222" stroke-width="1" fill="none"/>
<path d="M1074.2 653.8 L1078.3 657.7 L1082.4 653.8" stroke="#222" stroke-width="1" fill="none"/>
<circle cx="1064.2" cy="675.4" r="4.2" stroke="#222" stroke-width="1" fill="none"/>
<path d="M1068.6 676 L1072 674.2 L1071.4 677.2 Z" stroke="#000" stroke-width="0.3" fill="#000"/>
<circle cx="1064.2" cy="684" r="4.2" stroke="#222" stroke-width="1" fill="none"/>
<path d="M1068.6 684.6 L1072 682.8 L1071.4 685.8 Z" stroke="#000" stroke-width="0.3" fill="#000"/>
<line x1="1064.2" y1="668.6" x2="1064.2" y2="689.8" stroke="#222" stroke-width="1"/>
<circle cx="1092.4" cy="675.4" r="4.2" stroke="#222" stroke-width="1" fill="none"/>
<path d="M1096.8 676 L1100.2 674.2 L1099.6 677.2 Z" stroke="#000" stroke-width="0.3" fill="#000"/>
<circle cx="1092.4" cy="684" r="4.2" stroke="#222" stroke-width="1" fill="none"/>
<path d="M1096.8 684.6 L1100.2 682.8 L1099.6 685.8 Z" stroke="#000" stroke-width="0.3" fill="#000"/>
<line x1="1092.4" y1="668.6" x2="1092.4" y2="689.8" stroke="#222" stroke-width="1"/>
<line x1="1078.3" y1="642.4" x2="1078.3" y2="720.2" stroke="#000" stroke-width="1.1"/>
<path d="M1076.4 696.4 L1080.2 696.4 L1078.3 699.7 Z" stroke="#000" stroke-width="0.5" fill="#000"/>
<circle cx="1078.4" cy="710.2" r="4.4" stroke="#222" stroke-width="1" fill="none"/>
<line x1="1080.2" y1="710.2" x2="1080.2" y2="717.6" stroke="#222" stroke-width="1"/>
<line x1="1080.2" y1="717.6" x2="1084.9" y2="717.6" stroke="#222" stroke-width="1"/>
<line x1="1084.9" y1="713.8" x2="1084.9" y2="721.8" stroke="#222" stroke-width="1"/>
<line x1="1087.2" y1="715.8" x2="1087.2" y2="720" stroke="#555" stroke-width="0.8"/>
<circle cx="1133.4" cy="601.3" r="1.75" stroke="#000" stroke-width="0.9" fill="#fff"/>
<line x1="1133.4" y1="603.1" x2="1133.4" y2="629.3" stroke="#000" stroke-width="1.1"/>
<path d="M1129.3 620.7 L1133.4 616.8 L1137.5 620.7" stroke="#222" stroke-width="1" fill="none"/>
<path d="M1129.3 622.9 L1133.4 619 L1137.5 622.9" stroke="#222" stroke-width="1" fill="none"/>
<line x1="1131.8" y1="626.9" x2="1135.6" y2="630.7" stroke="#000" stroke-width="0.9"/>
<line x1="1131.8" y1="630.7" x2="1135.6" y2="626.9" stroke="#000" stroke-width="0.9"/>
<path d="M1125 629.5 Q1130.2 635.4 1133.4 642.4" stroke="#000" stroke-width="1" fill="none"/>
<path d="M1129.3 656 L1133.4 659.9 L1137.5 656" stroke="#222" stroke-width="1" fill="none"/>
<path d="M1129.3 653.8 L1133.4 657.7 L1137.5 653.8" stroke="#222" stroke-width="1" fill="none"/>
<circle cx="1119.3" cy="675.4" r="4.2" stroke="#222" stroke-width="1" fill="none"/>
<path d="M1123.7 676 L1127.1 674.2 L1126.5 677.2 Z" stroke="#000" stroke-width="0.3" fill="#000"/>
<circle cx="1119.3" cy="684" r="4.2" stroke="#222" stroke-width="1" fill="none"/>
<path d="M1123.7 684.6 L1127.1 682.8 L1126.5 685.8 Z" stroke="#000" stroke-width="0.3" fill="#000"/>
<line x1="1119.3" y1="668.6" x2="1119.3" y2="689.8" stroke="#222" stroke-width="1"/>
<circle cx="1147.5" cy="675.4" r="4.2" stroke="#222" stroke-width="1" fill="none"/>
<path d="M1151.9 676 L1155.3 674.2 L1154.7 677.2 Z" stroke="#000" stroke-width="0.3" fill="#000"/>
<circle cx="1147.5" cy="684" r="4.2" stroke="#222" stroke-width="1" fill="none"/>
<path d="M1151.9 684.6 L1155.3 682.8 L1154.7 685.8 Z" stroke="#000" stroke-width="0.3" fill="#000"/>
<line x1="1147.5" y1="668.6" x2="1147.5" y2="689.8" stroke="#222" stroke-width="1"/>
<line x1="1133.4" y1="642.4" x2="1133.4" y2="720.2" stroke="#000" stroke-width="1.1"/>
<path d="M1131.5 696.4 L1135.3 696.4 L1133.4 699.7 Z" stroke="#000" stroke-width="0.5" fill="#000"/>
<circle cx="1133.5" cy="710.2" r="4.4" stroke="#222" stroke-width="1" fill="none"/>
<line x1="1135.3" y1="710.2" x2="1135.3" y2="717.6" stroke="#222" stroke-width="1"/>
<line x1="1135.3" y1="717.6" x2="1140" y2="717.6" stroke="#222" stroke-width="1"/>
<line x1="1140" y1="713.8" x2="1140" y2="721.8" stroke="#222" stroke-width="1"/>
<line x1="1142.3" y1="715.8" x2="1142.3" y2="720" stroke="#555" stroke-width="0.8"/>
<line x1="140.5" y1="646.8" x2="140.5" y2="798" stroke="#000" stroke-width="1.1"/>
<path d="M138.6 709.8 L142.4 709.8 L140.5 713.1 Z" stroke="#000" stroke-width="0.5" fill="#000"/>
<path d="M138.6 745.4 L142.4 745.4 L140.5 742.1 Z" stroke="#000" stroke-width="0.5" fill="#000"/>
<line x1="60.4" y1="756" x2="140.5" y2="756" stroke="#000" stroke-width="1.1"/>
<line x1="60.4" y1="756" x2="60.4" y2="798" stroke="#000" stroke-width="1"/>
<line x1="83.6" y1="756" x2="83.6" y2="798" stroke="#000" stroke-width="1"/>
<line x1="109.6" y1="756" x2="109.6" y2="761.4" stroke="#000" stroke-width="1"/>
<line x1="107.8" y1="761.4" x2="111.6" y2="761.4" stroke="#000" stroke-width="1"/>
<path d="M103.4 761.6 Q107 766 109.6 772.8 L109.6 798" stroke="#000" stroke-width="1" fill="none"/>
<rect x="58.3" y="785.3" width="4.2" height="10.4" stroke="#333" stroke-width="0.9" fill="#fff"/>
<line x1="60.4" y1="785.3" x2="60.4" y2="795.7" stroke="#555" stroke-width="0.8"/>
<rect x="81.5" y="785.3" width="4.2" height="10.4" stroke="#333" stroke-width="0.9" fill="#fff"/>
<line x1="83.6" y1="785.3" x2="83.6" y2="795.7" stroke="#555" stroke-width="0.8"/>
<rect x="107.5" y="785.3" width="4.2" height="10.4" stroke="#333" stroke-width="0.9" fill="#fff"/>
<line x1="109.6" y1="785.3" x2="109.6" y2="795.7" stroke="#555" stroke-width="0.8"/>
<rect x="107.5" y="785.3" width="4.2" height="10.4" stroke="#333" stroke-width="0.9" fill="#999"/>
<circle cx="140.5" cy="769.8" r="6.2" stroke="#333" stroke-width="1" fill="none"/>
<path d="M136.3 763 L136.3 776.4 M144.9 763 L144.9 776.4" stroke="#333" stroke-width="1" fill="none"/>
<path d="M136.3 764.5 A6.2 6.2 0 0 0 136.3 775 Z" stroke="#777" stroke-width="0.5" fill="#888"/>
<circle cx="126.6" cy="793.4" r="4" stroke="#222" stroke-width="1" fill="none"/>
<path d="M130.8 794 L134.2 792.2 L133.6 795.2 Z" stroke="#000" stroke-width="0.3" fill="#000"/>
<circle cx="140.5" cy="793.4" r="4" stroke="#222" stroke-width="1" fill="none"/>
<path d="M144.7 794 L148.1 792.2 L147.5 795.2 Z" stroke="#000" stroke-width="0.3" fill="#000"/>
<circle cx="154.6" cy="793.4" r="4" stroke="#222" stroke-width="1" fill="none"/>
<path d="M158.8 794 L162.2 792.2 L161.6 795.2 Z" stroke="#000" stroke-width="0.3" fill="#000"/>
<line x1="126.6" y1="787" x2="126.6" y2="798" stroke="#222" stroke-width="1"/>
<line x1="154.6" y1="787" x2="154.6" y2="798" stroke="#222" stroke-width="1"/>
<text x="148.4" y="728.4" font-size="7.6" textLength="14.1" lengthAdjust="spacingAndGlyphs">222K</text>
<text x="149.2" y="740.6" font-size="7.6" textLength="10.3" lengthAdjust="spacingAndGlyphs">45K</text>
<text x="40" y="737.6" font-size="7.8" textLength="17" lengthAdjust="spacingAndGlyphs">221K</text>
<text x="26.7" y="746.6" font-size="6.4" textLength="24.7" lengthAdjust="spacingAndGlyphs" font-weight="bold">锻钢2#变</text>
<text x="20.7" y="762" font-size="10.4" textLength="35.3" lengthAdjust="spacingAndGlyphs" class="ns">2000KVA</text>
<text x="185.8" y="735.6" font-size="8.3" textLength="14.2" lengthAdjust="spacingAndGlyphs">223K</text>
<text x="188.6" y="747.8" font-size="7.2" textLength="10.6" lengthAdjust="spacingAndGlyphs">44K</text>
<text x="189.7" y="760.2" font-size="7.2" textLength="8.7" lengthAdjust="spacingAndGlyphs" font-weight="bold">备用</text>
<text x="241.6" y="735.6" font-size="8.3" textLength="13.5" lengthAdjust="spacingAndGlyphs">224K</text>
<text x="244.4" y="747.8" font-size="7.2" textLength="10.2" lengthAdjust="spacingAndGlyphs">43K</text>
<text x="244.6" y="760.2" font-size="7.2" textLength="8.8" lengthAdjust="spacingAndGlyphs" font-weight="bold">铸造</text>
<text x="296" y="735.6" font-size="8.3" textLength="14.5" lengthAdjust="spacingAndGlyphs">225K</text>
<text x="299.6" y="747.8" font-size="7.2" textLength="10" lengthAdjust="spacingAndGlyphs">42K</text>
<text x="299.2" y="760.2" font-size="7.2" textLength="8.8" lengthAdjust="spacingAndGlyphs" font-weight="bold">修钢</text>
<text x="351.5" y="735.6" font-size="8.3" textLength="14.3" lengthAdjust="spacingAndGlyphs">226K</text>
<text x="353.8" y="747.8" font-size="7.2" textLength="9.8" lengthAdjust="spacingAndGlyphs">41K</text>
<text x="353.8" y="760.2" font-size="7.2" textLength="9.2" lengthAdjust="spacingAndGlyphs" font-weight="bold">机修</text>
<text x="406.3" y="735.6" font-size="8.3" textLength="13.7" lengthAdjust="spacingAndGlyphs">227K</text>
<text x="409.2" y="747.8" font-size="7.2" textLength="10.8" lengthAdjust="spacingAndGlyphs">40K</text>
<text x="409.2" y="760.2" font-size="7.2" textLength="8.3" lengthAdjust="spacingAndGlyphs" font-weight="bold">制氧</text>
<text x="462" y="735.6" font-size="8.3" textLength="14" lengthAdjust="spacingAndGlyphs">228K</text>
<text x="465.2" y="747.8" font-size="7.2" textLength="9.5" lengthAdjust="spacingAndGlyphs">39K</text>
<text x="464.4" y="760.2" font-size="7.2" textLength="8.6" lengthAdjust="spacingAndGlyphs" font-weight="bold">轧机</text>
<text x="515.2" y="735.6" font-size="8.3" textLength="14.2" lengthAdjust="spacingAndGlyphs">229K</text>
<text x="519" y="747.8" font-size="7.2" textLength="9.4" lengthAdjust="spacingAndGlyphs">38K</text>
<text x="509.1" y="760.2" font-size="7.2" textLength="24.1" lengthAdjust="spacingAndGlyphs" font-weight="bold">3#启动闸变</text>
<text x="571" y="735.6" font-size="8.3" textLength="14.3" lengthAdjust="spacingAndGlyphs">230K</text>
<text x="574.3" y="747.8" font-size="7.2" textLength="10" lengthAdjust="spacingAndGlyphs">32K</text>
<text x="568.2" y="760.2" font-size="7.2" textLength="19.3" lengthAdjust="spacingAndGlyphs" font-weight="bold">循环水站</text>
<text x="626.6" y="735.6" font-size="8.3" textLength="13.3" lengthAdjust="spacingAndGlyphs">231K</text>
<text x="628.9" y="747.8" font-size="7.2" textLength="9.4" lengthAdjust="spacingAndGlyphs">34K</text>
<text x="617.1" y="761" font-size="7.2" textLength="24.1" lengthAdjust="spacingAndGlyphs" font-weight="bold">2#站用变</text>
<text x="681" y="735.6" font-size="8.3" textLength="14.2" lengthAdjust="spacingAndGlyphs">232K</text>
<text x="682.9" y="762.2" font-size="7.2" textLength="10.4" lengthAdjust="spacingAndGlyphs" font-weight="bold">电容</text>
<text x="793.4" y="733.8" font-size="7.3" textLength="18.5" lengthAdjust="spacingAndGlyphs">118K</text>
<text x="795.2" y="744.2" font-size="7.3" textLength="14.4" lengthAdjust="spacingAndGlyphs">35K</text>
<text x="786.9" y="757.2" font-size="6.6" textLength="23.2" lengthAdjust="spacingAndGlyphs" font-weight="bold">1#电弧炉变</text>
<text x="847.2" y="733.8" font-size="7.3" textLength="17.6" lengthAdjust="spacingAndGlyphs">117K</text>
<text x="848.9" y="744.2" font-size="7.3" textLength="13.8" lengthAdjust="spacingAndGlyphs">33K</text>
<text x="848" y="757.2" font-size="6.6" textLength="8.7" lengthAdjust="spacingAndGlyphs" font-weight="bold">轧机</text>
<text x="900.6" y="733.8" font-size="7.3" textLength="18.1" lengthAdjust="spacingAndGlyphs">116K</text>
<text x="901.4" y="744.2" font-size="7.3" textLength="13.8" lengthAdjust="spacingAndGlyphs">31K</text>
<text x="892.8" y="757.6" font-size="6.6" textLength="24.5" lengthAdjust="spacingAndGlyphs" font-weight="bold">化工厂备用</text>
<text x="959.2" y="733.8" font-size="7.3" textLength="17.2" lengthAdjust="spacingAndGlyphs">115K</text>
<text x="959.2" y="744.2" font-size="7.3" textLength="13.7" lengthAdjust="spacingAndGlyphs">30K</text>
<text x="954.8" y="758" font-size="6.6" textLength="14.7" lengthAdjust="spacingAndGlyphs" font-weight="bold">冲电站</text>
<text x="1010.7" y="733.8" font-size="7.3" textLength="17.6" lengthAdjust="spacingAndGlyphs">114K</text>
<text x="1012.7" y="744.2" font-size="7.3" textLength="14.1" lengthAdjust="spacingAndGlyphs">29K</text>
<text x="1014.3" y="757.6" font-size="6.6" textLength="9.8" lengthAdjust="spacingAndGlyphs" font-weight="bold">磁选</text>
<text x="1070.9" y="732.2" font-size="7.3" textLength="17.5" lengthAdjust="spacingAndGlyphs">113K</text>
<text x="1070.1" y="743" font-size="7.3" textLength="13.6" lengthAdjust="spacingAndGlyphs">28K</text>
<text x="1088.7" y="740.6" font-size="6.6" textLength="7.9" lengthAdjust="spacingAndGlyphs" font-weight="bold">炒炭</text>
<text x="1127.3" y="732.2" font-size="7.3" textLength="17.7" lengthAdjust="spacingAndGlyphs">112K</text>
<text x="1125.8" y="743" font-size="7.3" textLength="14.5" lengthAdjust="spacingAndGlyphs">27K</text>
<text x="1143.4" y="740.6" font-size="6.6" textLength="8.6" lengthAdjust="spacingAndGlyphs" font-weight="bold">制氧</text>
<line x1="1088.2" y1="751.7" x2="1161" y2="751.7" stroke="#000" stroke-width="1.1"/>
<line x1="1088.2" y1="751.7" x2="1088.2" y2="798" stroke="#000" stroke-width="1"/>
<line x1="1119.6" y1="751.7" x2="1119.6" y2="798" stroke="#000" stroke-width="1"/>
<line x1="1157.2" y1="751.7" x2="1157.2" y2="757.4" stroke="#000" stroke-width="1"/>
<line x1="1155.4" y1="757.4" x2="1159.2" y2="757.4" stroke="#000" stroke-width="1"/>
<path d="M1150.6 757.6 Q1154.4 762 1157 769 L1157 798" stroke="#000" stroke-width="1" fill="none"/>
<rect x="1086" y="781" width="4.4" height="9.8" stroke="#333" stroke-width="0.9" fill="#bbb"/>
<rect x="1117.4" y="781" width="4.4" height="9.8" stroke="#333" stroke-width="0.9" fill="#fff"/>
<rect x="1154.8" y="781" width="4.4" height="9.8" stroke="#333" stroke-width="0.9" fill="#bbb"/>
</svg>
</body>
</html>
